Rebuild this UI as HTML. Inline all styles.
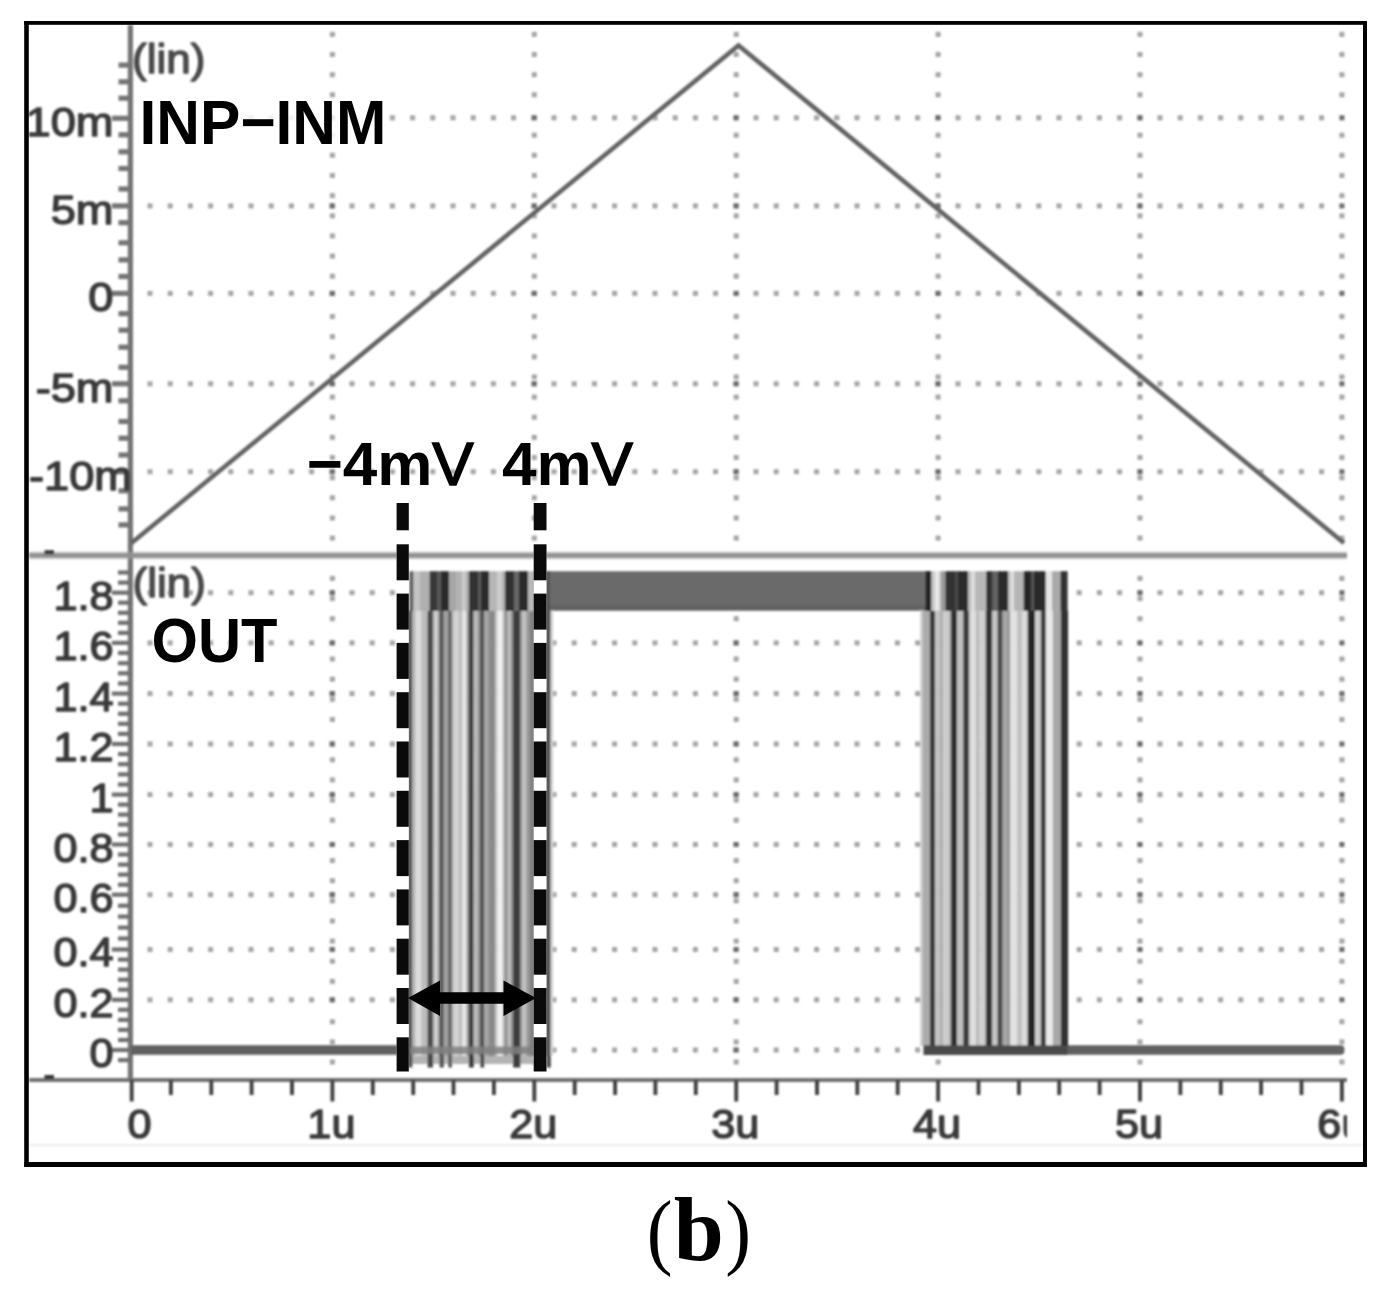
<!DOCTYPE html>
<html><head><meta charset="utf-8"><title>Figure (b)</title>
<style>
html,body{margin:0;padding:0;background:#fff;}
body{width:1393px;height:1295px;overflow:hidden;font-family:"Liberation Sans",sans-serif;}
svg{display:block;font-family:"Liberation Sans",sans-serif;}
</style></head><body>
<svg width="1393" height="1295" viewBox="0 0 1393 1295">
<defs>
<filter id="bl" x="-2%" y="-2%" width="104%" height="104%"><feGaussianBlur stdDeviation="1.1"/></filter>
<clipPath id="clip6"><rect x="1200" y="1100" width="147" height="50"/></clipPath>
<clipPath id="inner"><rect x="29" y="24" width="1334" height="1138"/></clipPath>
</defs>
<rect width="1393" height="1295" fill="#fff"/>
<g filter="url(#bl)"><g clip-path="url(#inner)">
<rect x="147.5" y="115.3" width="5.0" height="5.0" fill="#a4a4a4"/>
<rect x="167.7" y="115.3" width="5.0" height="5.0" fill="#a4a4a4"/>
<rect x="187.9" y="115.3" width="5.0" height="5.0" fill="#a4a4a4"/>
<rect x="208.1" y="115.3" width="5.0" height="5.0" fill="#a4a4a4"/>
<rect x="228.3" y="115.3" width="5.0" height="5.0" fill="#a4a4a4"/>
<rect x="248.5" y="115.3" width="5.0" height="5.0" fill="#a4a4a4"/>
<rect x="268.7" y="115.3" width="5.0" height="5.0" fill="#a4a4a4"/>
<rect x="288.9" y="115.3" width="5.0" height="5.0" fill="#a4a4a4"/>
<rect x="309.1" y="115.3" width="5.0" height="5.0" fill="#a4a4a4"/>
<rect x="329.3" y="115.3" width="5.0" height="5.0" fill="#a4a4a4"/>
<rect x="349.5" y="115.3" width="5.0" height="5.0" fill="#a4a4a4"/>
<rect x="369.7" y="115.3" width="5.0" height="5.0" fill="#a4a4a4"/>
<rect x="389.9" y="115.3" width="5.0" height="5.0" fill="#a4a4a4"/>
<rect x="410.1" y="115.3" width="5.0" height="5.0" fill="#a4a4a4"/>
<rect x="430.3" y="115.3" width="5.0" height="5.0" fill="#a4a4a4"/>
<rect x="450.5" y="115.3" width="5.0" height="5.0" fill="#a4a4a4"/>
<rect x="470.7" y="115.3" width="5.0" height="5.0" fill="#a4a4a4"/>
<rect x="490.9" y="115.3" width="5.0" height="5.0" fill="#a4a4a4"/>
<rect x="511.1" y="115.3" width="5.0" height="5.0" fill="#a4a4a4"/>
<rect x="531.3" y="115.3" width="5.0" height="5.0" fill="#a4a4a4"/>
<rect x="551.5" y="115.3" width="5.0" height="5.0" fill="#a4a4a4"/>
<rect x="571.7" y="115.3" width="5.0" height="5.0" fill="#a4a4a4"/>
<rect x="591.9" y="115.3" width="5.0" height="5.0" fill="#a4a4a4"/>
<rect x="612.1" y="115.3" width="5.0" height="5.0" fill="#a4a4a4"/>
<rect x="632.3" y="115.3" width="5.0" height="5.0" fill="#a4a4a4"/>
<rect x="652.5" y="115.3" width="5.0" height="5.0" fill="#a4a4a4"/>
<rect x="672.7" y="115.3" width="5.0" height="5.0" fill="#a4a4a4"/>
<rect x="692.9" y="115.3" width="5.0" height="5.0" fill="#a4a4a4"/>
<rect x="713.1" y="115.3" width="5.0" height="5.0" fill="#a4a4a4"/>
<rect x="733.3" y="115.3" width="5.0" height="5.0" fill="#a4a4a4"/>
<rect x="753.5" y="115.3" width="5.0" height="5.0" fill="#a4a4a4"/>
<rect x="773.7" y="115.3" width="5.0" height="5.0" fill="#a4a4a4"/>
<rect x="793.9" y="115.3" width="5.0" height="5.0" fill="#a4a4a4"/>
<rect x="814.1" y="115.3" width="5.0" height="5.0" fill="#a4a4a4"/>
<rect x="834.3" y="115.3" width="5.0" height="5.0" fill="#a4a4a4"/>
<rect x="854.5" y="115.3" width="5.0" height="5.0" fill="#a4a4a4"/>
<rect x="874.7" y="115.3" width="5.0" height="5.0" fill="#a4a4a4"/>
<rect x="894.9" y="115.3" width="5.0" height="5.0" fill="#a4a4a4"/>
<rect x="915.1" y="115.3" width="5.0" height="5.0" fill="#a4a4a4"/>
<rect x="935.3" y="115.3" width="5.0" height="5.0" fill="#a4a4a4"/>
<rect x="955.5" y="115.3" width="5.0" height="5.0" fill="#a4a4a4"/>
<rect x="975.7" y="115.3" width="5.0" height="5.0" fill="#a4a4a4"/>
<rect x="995.9" y="115.3" width="5.0" height="5.0" fill="#a4a4a4"/>
<rect x="1016.1" y="115.3" width="5.0" height="5.0" fill="#a4a4a4"/>
<rect x="1036.3" y="115.3" width="5.0" height="5.0" fill="#a4a4a4"/>
<rect x="1056.5" y="115.3" width="5.0" height="5.0" fill="#a4a4a4"/>
<rect x="1076.7" y="115.3" width="5.0" height="5.0" fill="#a4a4a4"/>
<rect x="1096.9" y="115.3" width="5.0" height="5.0" fill="#a4a4a4"/>
<rect x="1117.1" y="115.3" width="5.0" height="5.0" fill="#a4a4a4"/>
<rect x="1137.3" y="115.3" width="5.0" height="5.0" fill="#a4a4a4"/>
<rect x="1157.5" y="115.3" width="5.0" height="5.0" fill="#a4a4a4"/>
<rect x="1177.7" y="115.3" width="5.0" height="5.0" fill="#a4a4a4"/>
<rect x="1197.9" y="115.3" width="5.0" height="5.0" fill="#a4a4a4"/>
<rect x="1218.1" y="115.3" width="5.0" height="5.0" fill="#a4a4a4"/>
<rect x="1238.3" y="115.3" width="5.0" height="5.0" fill="#a4a4a4"/>
<rect x="1258.5" y="115.3" width="5.0" height="5.0" fill="#a4a4a4"/>
<rect x="1278.7" y="115.3" width="5.0" height="5.0" fill="#a4a4a4"/>
<rect x="1298.9" y="115.3" width="5.0" height="5.0" fill="#a4a4a4"/>
<rect x="1319.1" y="115.3" width="5.0" height="5.0" fill="#a4a4a4"/>
<rect x="147.5" y="203.4" width="5.0" height="5.0" fill="#a4a4a4"/>
<rect x="167.7" y="203.4" width="5.0" height="5.0" fill="#a4a4a4"/>
<rect x="187.9" y="203.4" width="5.0" height="5.0" fill="#a4a4a4"/>
<rect x="208.1" y="203.4" width="5.0" height="5.0" fill="#a4a4a4"/>
<rect x="228.3" y="203.4" width="5.0" height="5.0" fill="#a4a4a4"/>
<rect x="248.5" y="203.4" width="5.0" height="5.0" fill="#a4a4a4"/>
<rect x="268.7" y="203.4" width="5.0" height="5.0" fill="#a4a4a4"/>
<rect x="288.9" y="203.4" width="5.0" height="5.0" fill="#a4a4a4"/>
<rect x="309.1" y="203.4" width="5.0" height="5.0" fill="#a4a4a4"/>
<rect x="329.3" y="203.4" width="5.0" height="5.0" fill="#a4a4a4"/>
<rect x="349.5" y="203.4" width="5.0" height="5.0" fill="#a4a4a4"/>
<rect x="369.7" y="203.4" width="5.0" height="5.0" fill="#a4a4a4"/>
<rect x="389.9" y="203.4" width="5.0" height="5.0" fill="#a4a4a4"/>
<rect x="410.1" y="203.4" width="5.0" height="5.0" fill="#a4a4a4"/>
<rect x="430.3" y="203.4" width="5.0" height="5.0" fill="#a4a4a4"/>
<rect x="450.5" y="203.4" width="5.0" height="5.0" fill="#a4a4a4"/>
<rect x="470.7" y="203.4" width="5.0" height="5.0" fill="#a4a4a4"/>
<rect x="490.9" y="203.4" width="5.0" height="5.0" fill="#a4a4a4"/>
<rect x="511.1" y="203.4" width="5.0" height="5.0" fill="#a4a4a4"/>
<rect x="531.3" y="203.4" width="5.0" height="5.0" fill="#a4a4a4"/>
<rect x="551.5" y="203.4" width="5.0" height="5.0" fill="#a4a4a4"/>
<rect x="571.7" y="203.4" width="5.0" height="5.0" fill="#a4a4a4"/>
<rect x="591.9" y="203.4" width="5.0" height="5.0" fill="#a4a4a4"/>
<rect x="612.1" y="203.4" width="5.0" height="5.0" fill="#a4a4a4"/>
<rect x="632.3" y="203.4" width="5.0" height="5.0" fill="#a4a4a4"/>
<rect x="652.5" y="203.4" width="5.0" height="5.0" fill="#a4a4a4"/>
<rect x="672.7" y="203.4" width="5.0" height="5.0" fill="#a4a4a4"/>
<rect x="692.9" y="203.4" width="5.0" height="5.0" fill="#a4a4a4"/>
<rect x="713.1" y="203.4" width="5.0" height="5.0" fill="#a4a4a4"/>
<rect x="733.3" y="203.4" width="5.0" height="5.0" fill="#a4a4a4"/>
<rect x="753.5" y="203.4" width="5.0" height="5.0" fill="#a4a4a4"/>
<rect x="773.7" y="203.4" width="5.0" height="5.0" fill="#a4a4a4"/>
<rect x="793.9" y="203.4" width="5.0" height="5.0" fill="#a4a4a4"/>
<rect x="814.1" y="203.4" width="5.0" height="5.0" fill="#a4a4a4"/>
<rect x="834.3" y="203.4" width="5.0" height="5.0" fill="#a4a4a4"/>
<rect x="854.5" y="203.4" width="5.0" height="5.0" fill="#a4a4a4"/>
<rect x="874.7" y="203.4" width="5.0" height="5.0" fill="#a4a4a4"/>
<rect x="894.9" y="203.4" width="5.0" height="5.0" fill="#a4a4a4"/>
<rect x="915.1" y="203.4" width="5.0" height="5.0" fill="#a4a4a4"/>
<rect x="935.3" y="203.4" width="5.0" height="5.0" fill="#a4a4a4"/>
<rect x="955.5" y="203.4" width="5.0" height="5.0" fill="#a4a4a4"/>
<rect x="975.7" y="203.4" width="5.0" height="5.0" fill="#a4a4a4"/>
<rect x="995.9" y="203.4" width="5.0" height="5.0" fill="#a4a4a4"/>
<rect x="1016.1" y="203.4" width="5.0" height="5.0" fill="#a4a4a4"/>
<rect x="1036.3" y="203.4" width="5.0" height="5.0" fill="#a4a4a4"/>
<rect x="1056.5" y="203.4" width="5.0" height="5.0" fill="#a4a4a4"/>
<rect x="1076.7" y="203.4" width="5.0" height="5.0" fill="#a4a4a4"/>
<rect x="1096.9" y="203.4" width="5.0" height="5.0" fill="#a4a4a4"/>
<rect x="1117.1" y="203.4" width="5.0" height="5.0" fill="#a4a4a4"/>
<rect x="1137.3" y="203.4" width="5.0" height="5.0" fill="#a4a4a4"/>
<rect x="1157.5" y="203.4" width="5.0" height="5.0" fill="#a4a4a4"/>
<rect x="1177.7" y="203.4" width="5.0" height="5.0" fill="#a4a4a4"/>
<rect x="1197.9" y="203.4" width="5.0" height="5.0" fill="#a4a4a4"/>
<rect x="1218.1" y="203.4" width="5.0" height="5.0" fill="#a4a4a4"/>
<rect x="1238.3" y="203.4" width="5.0" height="5.0" fill="#a4a4a4"/>
<rect x="1258.5" y="203.4" width="5.0" height="5.0" fill="#a4a4a4"/>
<rect x="1278.7" y="203.4" width="5.0" height="5.0" fill="#a4a4a4"/>
<rect x="1298.9" y="203.4" width="5.0" height="5.0" fill="#a4a4a4"/>
<rect x="1319.1" y="203.4" width="5.0" height="5.0" fill="#a4a4a4"/>
<rect x="147.5" y="290.9" width="5.0" height="5.0" fill="#a4a4a4"/>
<rect x="167.7" y="290.9" width="5.0" height="5.0" fill="#a4a4a4"/>
<rect x="187.9" y="290.9" width="5.0" height="5.0" fill="#a4a4a4"/>
<rect x="208.1" y="290.9" width="5.0" height="5.0" fill="#a4a4a4"/>
<rect x="228.3" y="290.9" width="5.0" height="5.0" fill="#a4a4a4"/>
<rect x="248.5" y="290.9" width="5.0" height="5.0" fill="#a4a4a4"/>
<rect x="268.7" y="290.9" width="5.0" height="5.0" fill="#a4a4a4"/>
<rect x="288.9" y="290.9" width="5.0" height="5.0" fill="#a4a4a4"/>
<rect x="309.1" y="290.9" width="5.0" height="5.0" fill="#a4a4a4"/>
<rect x="329.3" y="290.9" width="5.0" height="5.0" fill="#a4a4a4"/>
<rect x="349.5" y="290.9" width="5.0" height="5.0" fill="#a4a4a4"/>
<rect x="369.7" y="290.9" width="5.0" height="5.0" fill="#a4a4a4"/>
<rect x="389.9" y="290.9" width="5.0" height="5.0" fill="#a4a4a4"/>
<rect x="410.1" y="290.9" width="5.0" height="5.0" fill="#a4a4a4"/>
<rect x="430.3" y="290.9" width="5.0" height="5.0" fill="#a4a4a4"/>
<rect x="450.5" y="290.9" width="5.0" height="5.0" fill="#a4a4a4"/>
<rect x="470.7" y="290.9" width="5.0" height="5.0" fill="#a4a4a4"/>
<rect x="490.9" y="290.9" width="5.0" height="5.0" fill="#a4a4a4"/>
<rect x="511.1" y="290.9" width="5.0" height="5.0" fill="#a4a4a4"/>
<rect x="531.3" y="290.9" width="5.0" height="5.0" fill="#a4a4a4"/>
<rect x="551.5" y="290.9" width="5.0" height="5.0" fill="#a4a4a4"/>
<rect x="571.7" y="290.9" width="5.0" height="5.0" fill="#a4a4a4"/>
<rect x="591.9" y="290.9" width="5.0" height="5.0" fill="#a4a4a4"/>
<rect x="612.1" y="290.9" width="5.0" height="5.0" fill="#a4a4a4"/>
<rect x="632.3" y="290.9" width="5.0" height="5.0" fill="#a4a4a4"/>
<rect x="652.5" y="290.9" width="5.0" height="5.0" fill="#a4a4a4"/>
<rect x="672.7" y="290.9" width="5.0" height="5.0" fill="#a4a4a4"/>
<rect x="692.9" y="290.9" width="5.0" height="5.0" fill="#a4a4a4"/>
<rect x="713.1" y="290.9" width="5.0" height="5.0" fill="#a4a4a4"/>
<rect x="733.3" y="290.9" width="5.0" height="5.0" fill="#a4a4a4"/>
<rect x="753.5" y="290.9" width="5.0" height="5.0" fill="#a4a4a4"/>
<rect x="773.7" y="290.9" width="5.0" height="5.0" fill="#a4a4a4"/>
<rect x="793.9" y="290.9" width="5.0" height="5.0" fill="#a4a4a4"/>
<rect x="814.1" y="290.9" width="5.0" height="5.0" fill="#a4a4a4"/>
<rect x="834.3" y="290.9" width="5.0" height="5.0" fill="#a4a4a4"/>
<rect x="854.5" y="290.9" width="5.0" height="5.0" fill="#a4a4a4"/>
<rect x="874.7" y="290.9" width="5.0" height="5.0" fill="#a4a4a4"/>
<rect x="894.9" y="290.9" width="5.0" height="5.0" fill="#a4a4a4"/>
<rect x="915.1" y="290.9" width="5.0" height="5.0" fill="#a4a4a4"/>
<rect x="935.3" y="290.9" width="5.0" height="5.0" fill="#a4a4a4"/>
<rect x="955.5" y="290.9" width="5.0" height="5.0" fill="#a4a4a4"/>
<rect x="975.7" y="290.9" width="5.0" height="5.0" fill="#a4a4a4"/>
<rect x="995.9" y="290.9" width="5.0" height="5.0" fill="#a4a4a4"/>
<rect x="1016.1" y="290.9" width="5.0" height="5.0" fill="#a4a4a4"/>
<rect x="1036.3" y="290.9" width="5.0" height="5.0" fill="#a4a4a4"/>
<rect x="1056.5" y="290.9" width="5.0" height="5.0" fill="#a4a4a4"/>
<rect x="1076.7" y="290.9" width="5.0" height="5.0" fill="#a4a4a4"/>
<rect x="1096.9" y="290.9" width="5.0" height="5.0" fill="#a4a4a4"/>
<rect x="1117.1" y="290.9" width="5.0" height="5.0" fill="#a4a4a4"/>
<rect x="1137.3" y="290.9" width="5.0" height="5.0" fill="#a4a4a4"/>
<rect x="1157.5" y="290.9" width="5.0" height="5.0" fill="#a4a4a4"/>
<rect x="1177.7" y="290.9" width="5.0" height="5.0" fill="#a4a4a4"/>
<rect x="1197.9" y="290.9" width="5.0" height="5.0" fill="#a4a4a4"/>
<rect x="1218.1" y="290.9" width="5.0" height="5.0" fill="#a4a4a4"/>
<rect x="1238.3" y="290.9" width="5.0" height="5.0" fill="#a4a4a4"/>
<rect x="1258.5" y="290.9" width="5.0" height="5.0" fill="#a4a4a4"/>
<rect x="1278.7" y="290.9" width="5.0" height="5.0" fill="#a4a4a4"/>
<rect x="1298.9" y="290.9" width="5.0" height="5.0" fill="#a4a4a4"/>
<rect x="1319.1" y="290.9" width="5.0" height="5.0" fill="#a4a4a4"/>
<rect x="147.5" y="381.3" width="5.0" height="5.0" fill="#a4a4a4"/>
<rect x="167.7" y="381.3" width="5.0" height="5.0" fill="#a4a4a4"/>
<rect x="187.9" y="381.3" width="5.0" height="5.0" fill="#a4a4a4"/>
<rect x="208.1" y="381.3" width="5.0" height="5.0" fill="#a4a4a4"/>
<rect x="228.3" y="381.3" width="5.0" height="5.0" fill="#a4a4a4"/>
<rect x="248.5" y="381.3" width="5.0" height="5.0" fill="#a4a4a4"/>
<rect x="268.7" y="381.3" width="5.0" height="5.0" fill="#a4a4a4"/>
<rect x="288.9" y="381.3" width="5.0" height="5.0" fill="#a4a4a4"/>
<rect x="309.1" y="381.3" width="5.0" height="5.0" fill="#a4a4a4"/>
<rect x="329.3" y="381.3" width="5.0" height="5.0" fill="#a4a4a4"/>
<rect x="349.5" y="381.3" width="5.0" height="5.0" fill="#a4a4a4"/>
<rect x="369.7" y="381.3" width="5.0" height="5.0" fill="#a4a4a4"/>
<rect x="389.9" y="381.3" width="5.0" height="5.0" fill="#a4a4a4"/>
<rect x="410.1" y="381.3" width="5.0" height="5.0" fill="#a4a4a4"/>
<rect x="430.3" y="381.3" width="5.0" height="5.0" fill="#a4a4a4"/>
<rect x="450.5" y="381.3" width="5.0" height="5.0" fill="#a4a4a4"/>
<rect x="470.7" y="381.3" width="5.0" height="5.0" fill="#a4a4a4"/>
<rect x="490.9" y="381.3" width="5.0" height="5.0" fill="#a4a4a4"/>
<rect x="511.1" y="381.3" width="5.0" height="5.0" fill="#a4a4a4"/>
<rect x="531.3" y="381.3" width="5.0" height="5.0" fill="#a4a4a4"/>
<rect x="551.5" y="381.3" width="5.0" height="5.0" fill="#a4a4a4"/>
<rect x="571.7" y="381.3" width="5.0" height="5.0" fill="#a4a4a4"/>
<rect x="591.9" y="381.3" width="5.0" height="5.0" fill="#a4a4a4"/>
<rect x="612.1" y="381.3" width="5.0" height="5.0" fill="#a4a4a4"/>
<rect x="632.3" y="381.3" width="5.0" height="5.0" fill="#a4a4a4"/>
<rect x="652.5" y="381.3" width="5.0" height="5.0" fill="#a4a4a4"/>
<rect x="672.7" y="381.3" width="5.0" height="5.0" fill="#a4a4a4"/>
<rect x="692.9" y="381.3" width="5.0" height="5.0" fill="#a4a4a4"/>
<rect x="713.1" y="381.3" width="5.0" height="5.0" fill="#a4a4a4"/>
<rect x="733.3" y="381.3" width="5.0" height="5.0" fill="#a4a4a4"/>
<rect x="753.5" y="381.3" width="5.0" height="5.0" fill="#a4a4a4"/>
<rect x="773.7" y="381.3" width="5.0" height="5.0" fill="#a4a4a4"/>
<rect x="793.9" y="381.3" width="5.0" height="5.0" fill="#a4a4a4"/>
<rect x="814.1" y="381.3" width="5.0" height="5.0" fill="#a4a4a4"/>
<rect x="834.3" y="381.3" width="5.0" height="5.0" fill="#a4a4a4"/>
<rect x="854.5" y="381.3" width="5.0" height="5.0" fill="#a4a4a4"/>
<rect x="874.7" y="381.3" width="5.0" height="5.0" fill="#a4a4a4"/>
<rect x="894.9" y="381.3" width="5.0" height="5.0" fill="#a4a4a4"/>
<rect x="915.1" y="381.3" width="5.0" height="5.0" fill="#a4a4a4"/>
<rect x="935.3" y="381.3" width="5.0" height="5.0" fill="#a4a4a4"/>
<rect x="955.5" y="381.3" width="5.0" height="5.0" fill="#a4a4a4"/>
<rect x="975.7" y="381.3" width="5.0" height="5.0" fill="#a4a4a4"/>
<rect x="995.9" y="381.3" width="5.0" height="5.0" fill="#a4a4a4"/>
<rect x="1016.1" y="381.3" width="5.0" height="5.0" fill="#a4a4a4"/>
<rect x="1036.3" y="381.3" width="5.0" height="5.0" fill="#a4a4a4"/>
<rect x="1056.5" y="381.3" width="5.0" height="5.0" fill="#a4a4a4"/>
<rect x="1076.7" y="381.3" width="5.0" height="5.0" fill="#a4a4a4"/>
<rect x="1096.9" y="381.3" width="5.0" height="5.0" fill="#a4a4a4"/>
<rect x="1117.1" y="381.3" width="5.0" height="5.0" fill="#a4a4a4"/>
<rect x="1137.3" y="381.3" width="5.0" height="5.0" fill="#a4a4a4"/>
<rect x="1157.5" y="381.3" width="5.0" height="5.0" fill="#a4a4a4"/>
<rect x="1177.7" y="381.3" width="5.0" height="5.0" fill="#a4a4a4"/>
<rect x="1197.9" y="381.3" width="5.0" height="5.0" fill="#a4a4a4"/>
<rect x="1218.1" y="381.3" width="5.0" height="5.0" fill="#a4a4a4"/>
<rect x="1238.3" y="381.3" width="5.0" height="5.0" fill="#a4a4a4"/>
<rect x="1258.5" y="381.3" width="5.0" height="5.0" fill="#a4a4a4"/>
<rect x="1278.7" y="381.3" width="5.0" height="5.0" fill="#a4a4a4"/>
<rect x="1298.9" y="381.3" width="5.0" height="5.0" fill="#a4a4a4"/>
<rect x="1319.1" y="381.3" width="5.0" height="5.0" fill="#a4a4a4"/>
<rect x="147.5" y="469.2" width="5.0" height="5.0" fill="#a4a4a4"/>
<rect x="167.7" y="469.2" width="5.0" height="5.0" fill="#a4a4a4"/>
<rect x="187.9" y="469.2" width="5.0" height="5.0" fill="#a4a4a4"/>
<rect x="208.1" y="469.2" width="5.0" height="5.0" fill="#a4a4a4"/>
<rect x="228.3" y="469.2" width="5.0" height="5.0" fill="#a4a4a4"/>
<rect x="248.5" y="469.2" width="5.0" height="5.0" fill="#a4a4a4"/>
<rect x="268.7" y="469.2" width="5.0" height="5.0" fill="#a4a4a4"/>
<rect x="288.9" y="469.2" width="5.0" height="5.0" fill="#a4a4a4"/>
<rect x="309.1" y="469.2" width="5.0" height="5.0" fill="#a4a4a4"/>
<rect x="329.3" y="469.2" width="5.0" height="5.0" fill="#a4a4a4"/>
<rect x="349.5" y="469.2" width="5.0" height="5.0" fill="#a4a4a4"/>
<rect x="369.7" y="469.2" width="5.0" height="5.0" fill="#a4a4a4"/>
<rect x="389.9" y="469.2" width="5.0" height="5.0" fill="#a4a4a4"/>
<rect x="410.1" y="469.2" width="5.0" height="5.0" fill="#a4a4a4"/>
<rect x="430.3" y="469.2" width="5.0" height="5.0" fill="#a4a4a4"/>
<rect x="450.5" y="469.2" width="5.0" height="5.0" fill="#a4a4a4"/>
<rect x="470.7" y="469.2" width="5.0" height="5.0" fill="#a4a4a4"/>
<rect x="490.9" y="469.2" width="5.0" height="5.0" fill="#a4a4a4"/>
<rect x="511.1" y="469.2" width="5.0" height="5.0" fill="#a4a4a4"/>
<rect x="531.3" y="469.2" width="5.0" height="5.0" fill="#a4a4a4"/>
<rect x="551.5" y="469.2" width="5.0" height="5.0" fill="#a4a4a4"/>
<rect x="571.7" y="469.2" width="5.0" height="5.0" fill="#a4a4a4"/>
<rect x="591.9" y="469.2" width="5.0" height="5.0" fill="#a4a4a4"/>
<rect x="612.1" y="469.2" width="5.0" height="5.0" fill="#a4a4a4"/>
<rect x="632.3" y="469.2" width="5.0" height="5.0" fill="#a4a4a4"/>
<rect x="652.5" y="469.2" width="5.0" height="5.0" fill="#a4a4a4"/>
<rect x="672.7" y="469.2" width="5.0" height="5.0" fill="#a4a4a4"/>
<rect x="692.9" y="469.2" width="5.0" height="5.0" fill="#a4a4a4"/>
<rect x="713.1" y="469.2" width="5.0" height="5.0" fill="#a4a4a4"/>
<rect x="733.3" y="469.2" width="5.0" height="5.0" fill="#a4a4a4"/>
<rect x="753.5" y="469.2" width="5.0" height="5.0" fill="#a4a4a4"/>
<rect x="773.7" y="469.2" width="5.0" height="5.0" fill="#a4a4a4"/>
<rect x="793.9" y="469.2" width="5.0" height="5.0" fill="#a4a4a4"/>
<rect x="814.1" y="469.2" width="5.0" height="5.0" fill="#a4a4a4"/>
<rect x="834.3" y="469.2" width="5.0" height="5.0" fill="#a4a4a4"/>
<rect x="854.5" y="469.2" width="5.0" height="5.0" fill="#a4a4a4"/>
<rect x="874.7" y="469.2" width="5.0" height="5.0" fill="#a4a4a4"/>
<rect x="894.9" y="469.2" width="5.0" height="5.0" fill="#a4a4a4"/>
<rect x="915.1" y="469.2" width="5.0" height="5.0" fill="#a4a4a4"/>
<rect x="935.3" y="469.2" width="5.0" height="5.0" fill="#a4a4a4"/>
<rect x="955.5" y="469.2" width="5.0" height="5.0" fill="#a4a4a4"/>
<rect x="975.7" y="469.2" width="5.0" height="5.0" fill="#a4a4a4"/>
<rect x="995.9" y="469.2" width="5.0" height="5.0" fill="#a4a4a4"/>
<rect x="1016.1" y="469.2" width="5.0" height="5.0" fill="#a4a4a4"/>
<rect x="1036.3" y="469.2" width="5.0" height="5.0" fill="#a4a4a4"/>
<rect x="1056.5" y="469.2" width="5.0" height="5.0" fill="#a4a4a4"/>
<rect x="1076.7" y="469.2" width="5.0" height="5.0" fill="#a4a4a4"/>
<rect x="1096.9" y="469.2" width="5.0" height="5.0" fill="#a4a4a4"/>
<rect x="1117.1" y="469.2" width="5.0" height="5.0" fill="#a4a4a4"/>
<rect x="1137.3" y="469.2" width="5.0" height="5.0" fill="#a4a4a4"/>
<rect x="1157.5" y="469.2" width="5.0" height="5.0" fill="#a4a4a4"/>
<rect x="1177.7" y="469.2" width="5.0" height="5.0" fill="#a4a4a4"/>
<rect x="1197.9" y="469.2" width="5.0" height="5.0" fill="#a4a4a4"/>
<rect x="1218.1" y="469.2" width="5.0" height="5.0" fill="#a4a4a4"/>
<rect x="1238.3" y="469.2" width="5.0" height="5.0" fill="#a4a4a4"/>
<rect x="1258.5" y="469.2" width="5.0" height="5.0" fill="#a4a4a4"/>
<rect x="1278.7" y="469.2" width="5.0" height="5.0" fill="#a4a4a4"/>
<rect x="1298.9" y="469.2" width="5.0" height="5.0" fill="#a4a4a4"/>
<rect x="1319.1" y="469.2" width="5.0" height="5.0" fill="#a4a4a4"/>
<rect x="147.5" y="590.2" width="5.0" height="5.0" fill="#a4a4a4"/>
<rect x="167.7" y="590.2" width="5.0" height="5.0" fill="#a4a4a4"/>
<rect x="187.9" y="590.2" width="5.0" height="5.0" fill="#a4a4a4"/>
<rect x="208.1" y="590.2" width="5.0" height="5.0" fill="#a4a4a4"/>
<rect x="228.3" y="590.2" width="5.0" height="5.0" fill="#a4a4a4"/>
<rect x="248.5" y="590.2" width="5.0" height="5.0" fill="#a4a4a4"/>
<rect x="268.7" y="590.2" width="5.0" height="5.0" fill="#a4a4a4"/>
<rect x="288.9" y="590.2" width="5.0" height="5.0" fill="#a4a4a4"/>
<rect x="309.1" y="590.2" width="5.0" height="5.0" fill="#a4a4a4"/>
<rect x="329.3" y="590.2" width="5.0" height="5.0" fill="#a4a4a4"/>
<rect x="349.5" y="590.2" width="5.0" height="5.0" fill="#a4a4a4"/>
<rect x="369.7" y="590.2" width="5.0" height="5.0" fill="#a4a4a4"/>
<rect x="389.9" y="590.2" width="5.0" height="5.0" fill="#a4a4a4"/>
<rect x="410.1" y="590.2" width="5.0" height="5.0" fill="#a4a4a4"/>
<rect x="430.3" y="590.2" width="5.0" height="5.0" fill="#a4a4a4"/>
<rect x="450.5" y="590.2" width="5.0" height="5.0" fill="#a4a4a4"/>
<rect x="470.7" y="590.2" width="5.0" height="5.0" fill="#a4a4a4"/>
<rect x="490.9" y="590.2" width="5.0" height="5.0" fill="#a4a4a4"/>
<rect x="511.1" y="590.2" width="5.0" height="5.0" fill="#a4a4a4"/>
<rect x="531.3" y="590.2" width="5.0" height="5.0" fill="#a4a4a4"/>
<rect x="551.5" y="590.2" width="5.0" height="5.0" fill="#a4a4a4"/>
<rect x="571.7" y="590.2" width="5.0" height="5.0" fill="#a4a4a4"/>
<rect x="591.9" y="590.2" width="5.0" height="5.0" fill="#a4a4a4"/>
<rect x="612.1" y="590.2" width="5.0" height="5.0" fill="#a4a4a4"/>
<rect x="632.3" y="590.2" width="5.0" height="5.0" fill="#a4a4a4"/>
<rect x="652.5" y="590.2" width="5.0" height="5.0" fill="#a4a4a4"/>
<rect x="672.7" y="590.2" width="5.0" height="5.0" fill="#a4a4a4"/>
<rect x="692.9" y="590.2" width="5.0" height="5.0" fill="#a4a4a4"/>
<rect x="713.1" y="590.2" width="5.0" height="5.0" fill="#a4a4a4"/>
<rect x="733.3" y="590.2" width="5.0" height="5.0" fill="#a4a4a4"/>
<rect x="753.5" y="590.2" width="5.0" height="5.0" fill="#a4a4a4"/>
<rect x="773.7" y="590.2" width="5.0" height="5.0" fill="#a4a4a4"/>
<rect x="793.9" y="590.2" width="5.0" height="5.0" fill="#a4a4a4"/>
<rect x="814.1" y="590.2" width="5.0" height="5.0" fill="#a4a4a4"/>
<rect x="834.3" y="590.2" width="5.0" height="5.0" fill="#a4a4a4"/>
<rect x="854.5" y="590.2" width="5.0" height="5.0" fill="#a4a4a4"/>
<rect x="874.7" y="590.2" width="5.0" height="5.0" fill="#a4a4a4"/>
<rect x="894.9" y="590.2" width="5.0" height="5.0" fill="#a4a4a4"/>
<rect x="915.1" y="590.2" width="5.0" height="5.0" fill="#a4a4a4"/>
<rect x="935.3" y="590.2" width="5.0" height="5.0" fill="#a4a4a4"/>
<rect x="955.5" y="590.2" width="5.0" height="5.0" fill="#a4a4a4"/>
<rect x="975.7" y="590.2" width="5.0" height="5.0" fill="#a4a4a4"/>
<rect x="995.9" y="590.2" width="5.0" height="5.0" fill="#a4a4a4"/>
<rect x="1016.1" y="590.2" width="5.0" height="5.0" fill="#a4a4a4"/>
<rect x="1036.3" y="590.2" width="5.0" height="5.0" fill="#a4a4a4"/>
<rect x="1056.5" y="590.2" width="5.0" height="5.0" fill="#a4a4a4"/>
<rect x="1076.7" y="590.2" width="5.0" height="5.0" fill="#a4a4a4"/>
<rect x="1096.9" y="590.2" width="5.0" height="5.0" fill="#a4a4a4"/>
<rect x="1117.1" y="590.2" width="5.0" height="5.0" fill="#a4a4a4"/>
<rect x="1137.3" y="590.2" width="5.0" height="5.0" fill="#a4a4a4"/>
<rect x="1157.5" y="590.2" width="5.0" height="5.0" fill="#a4a4a4"/>
<rect x="1177.7" y="590.2" width="5.0" height="5.0" fill="#a4a4a4"/>
<rect x="1197.9" y="590.2" width="5.0" height="5.0" fill="#a4a4a4"/>
<rect x="1218.1" y="590.2" width="5.0" height="5.0" fill="#a4a4a4"/>
<rect x="1238.3" y="590.2" width="5.0" height="5.0" fill="#a4a4a4"/>
<rect x="1258.5" y="590.2" width="5.0" height="5.0" fill="#a4a4a4"/>
<rect x="1278.7" y="590.2" width="5.0" height="5.0" fill="#a4a4a4"/>
<rect x="1298.9" y="590.2" width="5.0" height="5.0" fill="#a4a4a4"/>
<rect x="1319.1" y="590.2" width="5.0" height="5.0" fill="#a4a4a4"/>
<rect x="147.5" y="640.4" width="5.0" height="5.0" fill="#a4a4a4"/>
<rect x="167.7" y="640.4" width="5.0" height="5.0" fill="#a4a4a4"/>
<rect x="187.9" y="640.4" width="5.0" height="5.0" fill="#a4a4a4"/>
<rect x="208.1" y="640.4" width="5.0" height="5.0" fill="#a4a4a4"/>
<rect x="228.3" y="640.4" width="5.0" height="5.0" fill="#a4a4a4"/>
<rect x="248.5" y="640.4" width="5.0" height="5.0" fill="#a4a4a4"/>
<rect x="268.7" y="640.4" width="5.0" height="5.0" fill="#a4a4a4"/>
<rect x="288.9" y="640.4" width="5.0" height="5.0" fill="#a4a4a4"/>
<rect x="309.1" y="640.4" width="5.0" height="5.0" fill="#a4a4a4"/>
<rect x="329.3" y="640.4" width="5.0" height="5.0" fill="#a4a4a4"/>
<rect x="349.5" y="640.4" width="5.0" height="5.0" fill="#a4a4a4"/>
<rect x="369.7" y="640.4" width="5.0" height="5.0" fill="#a4a4a4"/>
<rect x="389.9" y="640.4" width="5.0" height="5.0" fill="#a4a4a4"/>
<rect x="410.1" y="640.4" width="5.0" height="5.0" fill="#a4a4a4"/>
<rect x="430.3" y="640.4" width="5.0" height="5.0" fill="#a4a4a4"/>
<rect x="450.5" y="640.4" width="5.0" height="5.0" fill="#a4a4a4"/>
<rect x="470.7" y="640.4" width="5.0" height="5.0" fill="#a4a4a4"/>
<rect x="490.9" y="640.4" width="5.0" height="5.0" fill="#a4a4a4"/>
<rect x="511.1" y="640.4" width="5.0" height="5.0" fill="#a4a4a4"/>
<rect x="531.3" y="640.4" width="5.0" height="5.0" fill="#a4a4a4"/>
<rect x="551.5" y="640.4" width="5.0" height="5.0" fill="#a4a4a4"/>
<rect x="571.7" y="640.4" width="5.0" height="5.0" fill="#a4a4a4"/>
<rect x="591.9" y="640.4" width="5.0" height="5.0" fill="#a4a4a4"/>
<rect x="612.1" y="640.4" width="5.0" height="5.0" fill="#a4a4a4"/>
<rect x="632.3" y="640.4" width="5.0" height="5.0" fill="#a4a4a4"/>
<rect x="652.5" y="640.4" width="5.0" height="5.0" fill="#a4a4a4"/>
<rect x="672.7" y="640.4" width="5.0" height="5.0" fill="#a4a4a4"/>
<rect x="692.9" y="640.4" width="5.0" height="5.0" fill="#a4a4a4"/>
<rect x="713.1" y="640.4" width="5.0" height="5.0" fill="#a4a4a4"/>
<rect x="733.3" y="640.4" width="5.0" height="5.0" fill="#a4a4a4"/>
<rect x="753.5" y="640.4" width="5.0" height="5.0" fill="#a4a4a4"/>
<rect x="773.7" y="640.4" width="5.0" height="5.0" fill="#a4a4a4"/>
<rect x="793.9" y="640.4" width="5.0" height="5.0" fill="#a4a4a4"/>
<rect x="814.1" y="640.4" width="5.0" height="5.0" fill="#a4a4a4"/>
<rect x="834.3" y="640.4" width="5.0" height="5.0" fill="#a4a4a4"/>
<rect x="854.5" y="640.4" width="5.0" height="5.0" fill="#a4a4a4"/>
<rect x="874.7" y="640.4" width="5.0" height="5.0" fill="#a4a4a4"/>
<rect x="894.9" y="640.4" width="5.0" height="5.0" fill="#a4a4a4"/>
<rect x="915.1" y="640.4" width="5.0" height="5.0" fill="#a4a4a4"/>
<rect x="935.3" y="640.4" width="5.0" height="5.0" fill="#a4a4a4"/>
<rect x="955.5" y="640.4" width="5.0" height="5.0" fill="#a4a4a4"/>
<rect x="975.7" y="640.4" width="5.0" height="5.0" fill="#a4a4a4"/>
<rect x="995.9" y="640.4" width="5.0" height="5.0" fill="#a4a4a4"/>
<rect x="1016.1" y="640.4" width="5.0" height="5.0" fill="#a4a4a4"/>
<rect x="1036.3" y="640.4" width="5.0" height="5.0" fill="#a4a4a4"/>
<rect x="1056.5" y="640.4" width="5.0" height="5.0" fill="#a4a4a4"/>
<rect x="1076.7" y="640.4" width="5.0" height="5.0" fill="#a4a4a4"/>
<rect x="1096.9" y="640.4" width="5.0" height="5.0" fill="#a4a4a4"/>
<rect x="1117.1" y="640.4" width="5.0" height="5.0" fill="#a4a4a4"/>
<rect x="1137.3" y="640.4" width="5.0" height="5.0" fill="#a4a4a4"/>
<rect x="1157.5" y="640.4" width="5.0" height="5.0" fill="#a4a4a4"/>
<rect x="1177.7" y="640.4" width="5.0" height="5.0" fill="#a4a4a4"/>
<rect x="1197.9" y="640.4" width="5.0" height="5.0" fill="#a4a4a4"/>
<rect x="1218.1" y="640.4" width="5.0" height="5.0" fill="#a4a4a4"/>
<rect x="1238.3" y="640.4" width="5.0" height="5.0" fill="#a4a4a4"/>
<rect x="1258.5" y="640.4" width="5.0" height="5.0" fill="#a4a4a4"/>
<rect x="1278.7" y="640.4" width="5.0" height="5.0" fill="#a4a4a4"/>
<rect x="1298.9" y="640.4" width="5.0" height="5.0" fill="#a4a4a4"/>
<rect x="1319.1" y="640.4" width="5.0" height="5.0" fill="#a4a4a4"/>
<rect x="147.5" y="691.1" width="5.0" height="5.0" fill="#a4a4a4"/>
<rect x="167.7" y="691.1" width="5.0" height="5.0" fill="#a4a4a4"/>
<rect x="187.9" y="691.1" width="5.0" height="5.0" fill="#a4a4a4"/>
<rect x="208.1" y="691.1" width="5.0" height="5.0" fill="#a4a4a4"/>
<rect x="228.3" y="691.1" width="5.0" height="5.0" fill="#a4a4a4"/>
<rect x="248.5" y="691.1" width="5.0" height="5.0" fill="#a4a4a4"/>
<rect x="268.7" y="691.1" width="5.0" height="5.0" fill="#a4a4a4"/>
<rect x="288.9" y="691.1" width="5.0" height="5.0" fill="#a4a4a4"/>
<rect x="309.1" y="691.1" width="5.0" height="5.0" fill="#a4a4a4"/>
<rect x="329.3" y="691.1" width="5.0" height="5.0" fill="#a4a4a4"/>
<rect x="349.5" y="691.1" width="5.0" height="5.0" fill="#a4a4a4"/>
<rect x="369.7" y="691.1" width="5.0" height="5.0" fill="#a4a4a4"/>
<rect x="389.9" y="691.1" width="5.0" height="5.0" fill="#a4a4a4"/>
<rect x="410.1" y="691.1" width="5.0" height="5.0" fill="#a4a4a4"/>
<rect x="430.3" y="691.1" width="5.0" height="5.0" fill="#a4a4a4"/>
<rect x="450.5" y="691.1" width="5.0" height="5.0" fill="#a4a4a4"/>
<rect x="470.7" y="691.1" width="5.0" height="5.0" fill="#a4a4a4"/>
<rect x="490.9" y="691.1" width="5.0" height="5.0" fill="#a4a4a4"/>
<rect x="511.1" y="691.1" width="5.0" height="5.0" fill="#a4a4a4"/>
<rect x="531.3" y="691.1" width="5.0" height="5.0" fill="#a4a4a4"/>
<rect x="551.5" y="691.1" width="5.0" height="5.0" fill="#a4a4a4"/>
<rect x="571.7" y="691.1" width="5.0" height="5.0" fill="#a4a4a4"/>
<rect x="591.9" y="691.1" width="5.0" height="5.0" fill="#a4a4a4"/>
<rect x="612.1" y="691.1" width="5.0" height="5.0" fill="#a4a4a4"/>
<rect x="632.3" y="691.1" width="5.0" height="5.0" fill="#a4a4a4"/>
<rect x="652.5" y="691.1" width="5.0" height="5.0" fill="#a4a4a4"/>
<rect x="672.7" y="691.1" width="5.0" height="5.0" fill="#a4a4a4"/>
<rect x="692.9" y="691.1" width="5.0" height="5.0" fill="#a4a4a4"/>
<rect x="713.1" y="691.1" width="5.0" height="5.0" fill="#a4a4a4"/>
<rect x="733.3" y="691.1" width="5.0" height="5.0" fill="#a4a4a4"/>
<rect x="753.5" y="691.1" width="5.0" height="5.0" fill="#a4a4a4"/>
<rect x="773.7" y="691.1" width="5.0" height="5.0" fill="#a4a4a4"/>
<rect x="793.9" y="691.1" width="5.0" height="5.0" fill="#a4a4a4"/>
<rect x="814.1" y="691.1" width="5.0" height="5.0" fill="#a4a4a4"/>
<rect x="834.3" y="691.1" width="5.0" height="5.0" fill="#a4a4a4"/>
<rect x="854.5" y="691.1" width="5.0" height="5.0" fill="#a4a4a4"/>
<rect x="874.7" y="691.1" width="5.0" height="5.0" fill="#a4a4a4"/>
<rect x="894.9" y="691.1" width="5.0" height="5.0" fill="#a4a4a4"/>
<rect x="915.1" y="691.1" width="5.0" height="5.0" fill="#a4a4a4"/>
<rect x="935.3" y="691.1" width="5.0" height="5.0" fill="#a4a4a4"/>
<rect x="955.5" y="691.1" width="5.0" height="5.0" fill="#a4a4a4"/>
<rect x="975.7" y="691.1" width="5.0" height="5.0" fill="#a4a4a4"/>
<rect x="995.9" y="691.1" width="5.0" height="5.0" fill="#a4a4a4"/>
<rect x="1016.1" y="691.1" width="5.0" height="5.0" fill="#a4a4a4"/>
<rect x="1036.3" y="691.1" width="5.0" height="5.0" fill="#a4a4a4"/>
<rect x="1056.5" y="691.1" width="5.0" height="5.0" fill="#a4a4a4"/>
<rect x="1076.7" y="691.1" width="5.0" height="5.0" fill="#a4a4a4"/>
<rect x="1096.9" y="691.1" width="5.0" height="5.0" fill="#a4a4a4"/>
<rect x="1117.1" y="691.1" width="5.0" height="5.0" fill="#a4a4a4"/>
<rect x="1137.3" y="691.1" width="5.0" height="5.0" fill="#a4a4a4"/>
<rect x="1157.5" y="691.1" width="5.0" height="5.0" fill="#a4a4a4"/>
<rect x="1177.7" y="691.1" width="5.0" height="5.0" fill="#a4a4a4"/>
<rect x="1197.9" y="691.1" width="5.0" height="5.0" fill="#a4a4a4"/>
<rect x="1218.1" y="691.1" width="5.0" height="5.0" fill="#a4a4a4"/>
<rect x="1238.3" y="691.1" width="5.0" height="5.0" fill="#a4a4a4"/>
<rect x="1258.5" y="691.1" width="5.0" height="5.0" fill="#a4a4a4"/>
<rect x="1278.7" y="691.1" width="5.0" height="5.0" fill="#a4a4a4"/>
<rect x="1298.9" y="691.1" width="5.0" height="5.0" fill="#a4a4a4"/>
<rect x="1319.1" y="691.1" width="5.0" height="5.0" fill="#a4a4a4"/>
<rect x="147.5" y="741.5" width="5.0" height="5.0" fill="#a4a4a4"/>
<rect x="167.7" y="741.5" width="5.0" height="5.0" fill="#a4a4a4"/>
<rect x="187.9" y="741.5" width="5.0" height="5.0" fill="#a4a4a4"/>
<rect x="208.1" y="741.5" width="5.0" height="5.0" fill="#a4a4a4"/>
<rect x="228.3" y="741.5" width="5.0" height="5.0" fill="#a4a4a4"/>
<rect x="248.5" y="741.5" width="5.0" height="5.0" fill="#a4a4a4"/>
<rect x="268.7" y="741.5" width="5.0" height="5.0" fill="#a4a4a4"/>
<rect x="288.9" y="741.5" width="5.0" height="5.0" fill="#a4a4a4"/>
<rect x="309.1" y="741.5" width="5.0" height="5.0" fill="#a4a4a4"/>
<rect x="329.3" y="741.5" width="5.0" height="5.0" fill="#a4a4a4"/>
<rect x="349.5" y="741.5" width="5.0" height="5.0" fill="#a4a4a4"/>
<rect x="369.7" y="741.5" width="5.0" height="5.0" fill="#a4a4a4"/>
<rect x="389.9" y="741.5" width="5.0" height="5.0" fill="#a4a4a4"/>
<rect x="410.1" y="741.5" width="5.0" height="5.0" fill="#a4a4a4"/>
<rect x="430.3" y="741.5" width="5.0" height="5.0" fill="#a4a4a4"/>
<rect x="450.5" y="741.5" width="5.0" height="5.0" fill="#a4a4a4"/>
<rect x="470.7" y="741.5" width="5.0" height="5.0" fill="#a4a4a4"/>
<rect x="490.9" y="741.5" width="5.0" height="5.0" fill="#a4a4a4"/>
<rect x="511.1" y="741.5" width="5.0" height="5.0" fill="#a4a4a4"/>
<rect x="531.3" y="741.5" width="5.0" height="5.0" fill="#a4a4a4"/>
<rect x="551.5" y="741.5" width="5.0" height="5.0" fill="#a4a4a4"/>
<rect x="571.7" y="741.5" width="5.0" height="5.0" fill="#a4a4a4"/>
<rect x="591.9" y="741.5" width="5.0" height="5.0" fill="#a4a4a4"/>
<rect x="612.1" y="741.5" width="5.0" height="5.0" fill="#a4a4a4"/>
<rect x="632.3" y="741.5" width="5.0" height="5.0" fill="#a4a4a4"/>
<rect x="652.5" y="741.5" width="5.0" height="5.0" fill="#a4a4a4"/>
<rect x="672.7" y="741.5" width="5.0" height="5.0" fill="#a4a4a4"/>
<rect x="692.9" y="741.5" width="5.0" height="5.0" fill="#a4a4a4"/>
<rect x="713.1" y="741.5" width="5.0" height="5.0" fill="#a4a4a4"/>
<rect x="733.3" y="741.5" width="5.0" height="5.0" fill="#a4a4a4"/>
<rect x="753.5" y="741.5" width="5.0" height="5.0" fill="#a4a4a4"/>
<rect x="773.7" y="741.5" width="5.0" height="5.0" fill="#a4a4a4"/>
<rect x="793.9" y="741.5" width="5.0" height="5.0" fill="#a4a4a4"/>
<rect x="814.1" y="741.5" width="5.0" height="5.0" fill="#a4a4a4"/>
<rect x="834.3" y="741.5" width="5.0" height="5.0" fill="#a4a4a4"/>
<rect x="854.5" y="741.5" width="5.0" height="5.0" fill="#a4a4a4"/>
<rect x="874.7" y="741.5" width="5.0" height="5.0" fill="#a4a4a4"/>
<rect x="894.9" y="741.5" width="5.0" height="5.0" fill="#a4a4a4"/>
<rect x="915.1" y="741.5" width="5.0" height="5.0" fill="#a4a4a4"/>
<rect x="935.3" y="741.5" width="5.0" height="5.0" fill="#a4a4a4"/>
<rect x="955.5" y="741.5" width="5.0" height="5.0" fill="#a4a4a4"/>
<rect x="975.7" y="741.5" width="5.0" height="5.0" fill="#a4a4a4"/>
<rect x="995.9" y="741.5" width="5.0" height="5.0" fill="#a4a4a4"/>
<rect x="1016.1" y="741.5" width="5.0" height="5.0" fill="#a4a4a4"/>
<rect x="1036.3" y="741.5" width="5.0" height="5.0" fill="#a4a4a4"/>
<rect x="1056.5" y="741.5" width="5.0" height="5.0" fill="#a4a4a4"/>
<rect x="1076.7" y="741.5" width="5.0" height="5.0" fill="#a4a4a4"/>
<rect x="1096.9" y="741.5" width="5.0" height="5.0" fill="#a4a4a4"/>
<rect x="1117.1" y="741.5" width="5.0" height="5.0" fill="#a4a4a4"/>
<rect x="1137.3" y="741.5" width="5.0" height="5.0" fill="#a4a4a4"/>
<rect x="1157.5" y="741.5" width="5.0" height="5.0" fill="#a4a4a4"/>
<rect x="1177.7" y="741.5" width="5.0" height="5.0" fill="#a4a4a4"/>
<rect x="1197.9" y="741.5" width="5.0" height="5.0" fill="#a4a4a4"/>
<rect x="1218.1" y="741.5" width="5.0" height="5.0" fill="#a4a4a4"/>
<rect x="1238.3" y="741.5" width="5.0" height="5.0" fill="#a4a4a4"/>
<rect x="1258.5" y="741.5" width="5.0" height="5.0" fill="#a4a4a4"/>
<rect x="1278.7" y="741.5" width="5.0" height="5.0" fill="#a4a4a4"/>
<rect x="1298.9" y="741.5" width="5.0" height="5.0" fill="#a4a4a4"/>
<rect x="1319.1" y="741.5" width="5.0" height="5.0" fill="#a4a4a4"/>
<rect x="147.5" y="792.1" width="5.0" height="5.0" fill="#a4a4a4"/>
<rect x="167.7" y="792.1" width="5.0" height="5.0" fill="#a4a4a4"/>
<rect x="187.9" y="792.1" width="5.0" height="5.0" fill="#a4a4a4"/>
<rect x="208.1" y="792.1" width="5.0" height="5.0" fill="#a4a4a4"/>
<rect x="228.3" y="792.1" width="5.0" height="5.0" fill="#a4a4a4"/>
<rect x="248.5" y="792.1" width="5.0" height="5.0" fill="#a4a4a4"/>
<rect x="268.7" y="792.1" width="5.0" height="5.0" fill="#a4a4a4"/>
<rect x="288.9" y="792.1" width="5.0" height="5.0" fill="#a4a4a4"/>
<rect x="309.1" y="792.1" width="5.0" height="5.0" fill="#a4a4a4"/>
<rect x="329.3" y="792.1" width="5.0" height="5.0" fill="#a4a4a4"/>
<rect x="349.5" y="792.1" width="5.0" height="5.0" fill="#a4a4a4"/>
<rect x="369.7" y="792.1" width="5.0" height="5.0" fill="#a4a4a4"/>
<rect x="389.9" y="792.1" width="5.0" height="5.0" fill="#a4a4a4"/>
<rect x="410.1" y="792.1" width="5.0" height="5.0" fill="#a4a4a4"/>
<rect x="430.3" y="792.1" width="5.0" height="5.0" fill="#a4a4a4"/>
<rect x="450.5" y="792.1" width="5.0" height="5.0" fill="#a4a4a4"/>
<rect x="470.7" y="792.1" width="5.0" height="5.0" fill="#a4a4a4"/>
<rect x="490.9" y="792.1" width="5.0" height="5.0" fill="#a4a4a4"/>
<rect x="511.1" y="792.1" width="5.0" height="5.0" fill="#a4a4a4"/>
<rect x="531.3" y="792.1" width="5.0" height="5.0" fill="#a4a4a4"/>
<rect x="551.5" y="792.1" width="5.0" height="5.0" fill="#a4a4a4"/>
<rect x="571.7" y="792.1" width="5.0" height="5.0" fill="#a4a4a4"/>
<rect x="591.9" y="792.1" width="5.0" height="5.0" fill="#a4a4a4"/>
<rect x="612.1" y="792.1" width="5.0" height="5.0" fill="#a4a4a4"/>
<rect x="632.3" y="792.1" width="5.0" height="5.0" fill="#a4a4a4"/>
<rect x="652.5" y="792.1" width="5.0" height="5.0" fill="#a4a4a4"/>
<rect x="672.7" y="792.1" width="5.0" height="5.0" fill="#a4a4a4"/>
<rect x="692.9" y="792.1" width="5.0" height="5.0" fill="#a4a4a4"/>
<rect x="713.1" y="792.1" width="5.0" height="5.0" fill="#a4a4a4"/>
<rect x="733.3" y="792.1" width="5.0" height="5.0" fill="#a4a4a4"/>
<rect x="753.5" y="792.1" width="5.0" height="5.0" fill="#a4a4a4"/>
<rect x="773.7" y="792.1" width="5.0" height="5.0" fill="#a4a4a4"/>
<rect x="793.9" y="792.1" width="5.0" height="5.0" fill="#a4a4a4"/>
<rect x="814.1" y="792.1" width="5.0" height="5.0" fill="#a4a4a4"/>
<rect x="834.3" y="792.1" width="5.0" height="5.0" fill="#a4a4a4"/>
<rect x="854.5" y="792.1" width="5.0" height="5.0" fill="#a4a4a4"/>
<rect x="874.7" y="792.1" width="5.0" height="5.0" fill="#a4a4a4"/>
<rect x="894.9" y="792.1" width="5.0" height="5.0" fill="#a4a4a4"/>
<rect x="915.1" y="792.1" width="5.0" height="5.0" fill="#a4a4a4"/>
<rect x="935.3" y="792.1" width="5.0" height="5.0" fill="#a4a4a4"/>
<rect x="955.5" y="792.1" width="5.0" height="5.0" fill="#a4a4a4"/>
<rect x="975.7" y="792.1" width="5.0" height="5.0" fill="#a4a4a4"/>
<rect x="995.9" y="792.1" width="5.0" height="5.0" fill="#a4a4a4"/>
<rect x="1016.1" y="792.1" width="5.0" height="5.0" fill="#a4a4a4"/>
<rect x="1036.3" y="792.1" width="5.0" height="5.0" fill="#a4a4a4"/>
<rect x="1056.5" y="792.1" width="5.0" height="5.0" fill="#a4a4a4"/>
<rect x="1076.7" y="792.1" width="5.0" height="5.0" fill="#a4a4a4"/>
<rect x="1096.9" y="792.1" width="5.0" height="5.0" fill="#a4a4a4"/>
<rect x="1117.1" y="792.1" width="5.0" height="5.0" fill="#a4a4a4"/>
<rect x="1137.3" y="792.1" width="5.0" height="5.0" fill="#a4a4a4"/>
<rect x="1157.5" y="792.1" width="5.0" height="5.0" fill="#a4a4a4"/>
<rect x="1177.7" y="792.1" width="5.0" height="5.0" fill="#a4a4a4"/>
<rect x="1197.9" y="792.1" width="5.0" height="5.0" fill="#a4a4a4"/>
<rect x="1218.1" y="792.1" width="5.0" height="5.0" fill="#a4a4a4"/>
<rect x="1238.3" y="792.1" width="5.0" height="5.0" fill="#a4a4a4"/>
<rect x="1258.5" y="792.1" width="5.0" height="5.0" fill="#a4a4a4"/>
<rect x="1278.7" y="792.1" width="5.0" height="5.0" fill="#a4a4a4"/>
<rect x="1298.9" y="792.1" width="5.0" height="5.0" fill="#a4a4a4"/>
<rect x="1319.1" y="792.1" width="5.0" height="5.0" fill="#a4a4a4"/>
<rect x="147.5" y="842.0" width="5.0" height="5.0" fill="#a4a4a4"/>
<rect x="167.7" y="842.0" width="5.0" height="5.0" fill="#a4a4a4"/>
<rect x="187.9" y="842.0" width="5.0" height="5.0" fill="#a4a4a4"/>
<rect x="208.1" y="842.0" width="5.0" height="5.0" fill="#a4a4a4"/>
<rect x="228.3" y="842.0" width="5.0" height="5.0" fill="#a4a4a4"/>
<rect x="248.5" y="842.0" width="5.0" height="5.0" fill="#a4a4a4"/>
<rect x="268.7" y="842.0" width="5.0" height="5.0" fill="#a4a4a4"/>
<rect x="288.9" y="842.0" width="5.0" height="5.0" fill="#a4a4a4"/>
<rect x="309.1" y="842.0" width="5.0" height="5.0" fill="#a4a4a4"/>
<rect x="329.3" y="842.0" width="5.0" height="5.0" fill="#a4a4a4"/>
<rect x="349.5" y="842.0" width="5.0" height="5.0" fill="#a4a4a4"/>
<rect x="369.7" y="842.0" width="5.0" height="5.0" fill="#a4a4a4"/>
<rect x="389.9" y="842.0" width="5.0" height="5.0" fill="#a4a4a4"/>
<rect x="410.1" y="842.0" width="5.0" height="5.0" fill="#a4a4a4"/>
<rect x="430.3" y="842.0" width="5.0" height="5.0" fill="#a4a4a4"/>
<rect x="450.5" y="842.0" width="5.0" height="5.0" fill="#a4a4a4"/>
<rect x="470.7" y="842.0" width="5.0" height="5.0" fill="#a4a4a4"/>
<rect x="490.9" y="842.0" width="5.0" height="5.0" fill="#a4a4a4"/>
<rect x="511.1" y="842.0" width="5.0" height="5.0" fill="#a4a4a4"/>
<rect x="531.3" y="842.0" width="5.0" height="5.0" fill="#a4a4a4"/>
<rect x="551.5" y="842.0" width="5.0" height="5.0" fill="#a4a4a4"/>
<rect x="571.7" y="842.0" width="5.0" height="5.0" fill="#a4a4a4"/>
<rect x="591.9" y="842.0" width="5.0" height="5.0" fill="#a4a4a4"/>
<rect x="612.1" y="842.0" width="5.0" height="5.0" fill="#a4a4a4"/>
<rect x="632.3" y="842.0" width="5.0" height="5.0" fill="#a4a4a4"/>
<rect x="652.5" y="842.0" width="5.0" height="5.0" fill="#a4a4a4"/>
<rect x="672.7" y="842.0" width="5.0" height="5.0" fill="#a4a4a4"/>
<rect x="692.9" y="842.0" width="5.0" height="5.0" fill="#a4a4a4"/>
<rect x="713.1" y="842.0" width="5.0" height="5.0" fill="#a4a4a4"/>
<rect x="733.3" y="842.0" width="5.0" height="5.0" fill="#a4a4a4"/>
<rect x="753.5" y="842.0" width="5.0" height="5.0" fill="#a4a4a4"/>
<rect x="773.7" y="842.0" width="5.0" height="5.0" fill="#a4a4a4"/>
<rect x="793.9" y="842.0" width="5.0" height="5.0" fill="#a4a4a4"/>
<rect x="814.1" y="842.0" width="5.0" height="5.0" fill="#a4a4a4"/>
<rect x="834.3" y="842.0" width="5.0" height="5.0" fill="#a4a4a4"/>
<rect x="854.5" y="842.0" width="5.0" height="5.0" fill="#a4a4a4"/>
<rect x="874.7" y="842.0" width="5.0" height="5.0" fill="#a4a4a4"/>
<rect x="894.9" y="842.0" width="5.0" height="5.0" fill="#a4a4a4"/>
<rect x="915.1" y="842.0" width="5.0" height="5.0" fill="#a4a4a4"/>
<rect x="935.3" y="842.0" width="5.0" height="5.0" fill="#a4a4a4"/>
<rect x="955.5" y="842.0" width="5.0" height="5.0" fill="#a4a4a4"/>
<rect x="975.7" y="842.0" width="5.0" height="5.0" fill="#a4a4a4"/>
<rect x="995.9" y="842.0" width="5.0" height="5.0" fill="#a4a4a4"/>
<rect x="1016.1" y="842.0" width="5.0" height="5.0" fill="#a4a4a4"/>
<rect x="1036.3" y="842.0" width="5.0" height="5.0" fill="#a4a4a4"/>
<rect x="1056.5" y="842.0" width="5.0" height="5.0" fill="#a4a4a4"/>
<rect x="1076.7" y="842.0" width="5.0" height="5.0" fill="#a4a4a4"/>
<rect x="1096.9" y="842.0" width="5.0" height="5.0" fill="#a4a4a4"/>
<rect x="1117.1" y="842.0" width="5.0" height="5.0" fill="#a4a4a4"/>
<rect x="1137.3" y="842.0" width="5.0" height="5.0" fill="#a4a4a4"/>
<rect x="1157.5" y="842.0" width="5.0" height="5.0" fill="#a4a4a4"/>
<rect x="1177.7" y="842.0" width="5.0" height="5.0" fill="#a4a4a4"/>
<rect x="1197.9" y="842.0" width="5.0" height="5.0" fill="#a4a4a4"/>
<rect x="1218.1" y="842.0" width="5.0" height="5.0" fill="#a4a4a4"/>
<rect x="1238.3" y="842.0" width="5.0" height="5.0" fill="#a4a4a4"/>
<rect x="1258.5" y="842.0" width="5.0" height="5.0" fill="#a4a4a4"/>
<rect x="1278.7" y="842.0" width="5.0" height="5.0" fill="#a4a4a4"/>
<rect x="1298.9" y="842.0" width="5.0" height="5.0" fill="#a4a4a4"/>
<rect x="1319.1" y="842.0" width="5.0" height="5.0" fill="#a4a4a4"/>
<rect x="147.5" y="892.2" width="5.0" height="5.0" fill="#a4a4a4"/>
<rect x="167.7" y="892.2" width="5.0" height="5.0" fill="#a4a4a4"/>
<rect x="187.9" y="892.2" width="5.0" height="5.0" fill="#a4a4a4"/>
<rect x="208.1" y="892.2" width="5.0" height="5.0" fill="#a4a4a4"/>
<rect x="228.3" y="892.2" width="5.0" height="5.0" fill="#a4a4a4"/>
<rect x="248.5" y="892.2" width="5.0" height="5.0" fill="#a4a4a4"/>
<rect x="268.7" y="892.2" width="5.0" height="5.0" fill="#a4a4a4"/>
<rect x="288.9" y="892.2" width="5.0" height="5.0" fill="#a4a4a4"/>
<rect x="309.1" y="892.2" width="5.0" height="5.0" fill="#a4a4a4"/>
<rect x="329.3" y="892.2" width="5.0" height="5.0" fill="#a4a4a4"/>
<rect x="349.5" y="892.2" width="5.0" height="5.0" fill="#a4a4a4"/>
<rect x="369.7" y="892.2" width="5.0" height="5.0" fill="#a4a4a4"/>
<rect x="389.9" y="892.2" width="5.0" height="5.0" fill="#a4a4a4"/>
<rect x="410.1" y="892.2" width="5.0" height="5.0" fill="#a4a4a4"/>
<rect x="430.3" y="892.2" width="5.0" height="5.0" fill="#a4a4a4"/>
<rect x="450.5" y="892.2" width="5.0" height="5.0" fill="#a4a4a4"/>
<rect x="470.7" y="892.2" width="5.0" height="5.0" fill="#a4a4a4"/>
<rect x="490.9" y="892.2" width="5.0" height="5.0" fill="#a4a4a4"/>
<rect x="511.1" y="892.2" width="5.0" height="5.0" fill="#a4a4a4"/>
<rect x="531.3" y="892.2" width="5.0" height="5.0" fill="#a4a4a4"/>
<rect x="551.5" y="892.2" width="5.0" height="5.0" fill="#a4a4a4"/>
<rect x="571.7" y="892.2" width="5.0" height="5.0" fill="#a4a4a4"/>
<rect x="591.9" y="892.2" width="5.0" height="5.0" fill="#a4a4a4"/>
<rect x="612.1" y="892.2" width="5.0" height="5.0" fill="#a4a4a4"/>
<rect x="632.3" y="892.2" width="5.0" height="5.0" fill="#a4a4a4"/>
<rect x="652.5" y="892.2" width="5.0" height="5.0" fill="#a4a4a4"/>
<rect x="672.7" y="892.2" width="5.0" height="5.0" fill="#a4a4a4"/>
<rect x="692.9" y="892.2" width="5.0" height="5.0" fill="#a4a4a4"/>
<rect x="713.1" y="892.2" width="5.0" height="5.0" fill="#a4a4a4"/>
<rect x="733.3" y="892.2" width="5.0" height="5.0" fill="#a4a4a4"/>
<rect x="753.5" y="892.2" width="5.0" height="5.0" fill="#a4a4a4"/>
<rect x="773.7" y="892.2" width="5.0" height="5.0" fill="#a4a4a4"/>
<rect x="793.9" y="892.2" width="5.0" height="5.0" fill="#a4a4a4"/>
<rect x="814.1" y="892.2" width="5.0" height="5.0" fill="#a4a4a4"/>
<rect x="834.3" y="892.2" width="5.0" height="5.0" fill="#a4a4a4"/>
<rect x="854.5" y="892.2" width="5.0" height="5.0" fill="#a4a4a4"/>
<rect x="874.7" y="892.2" width="5.0" height="5.0" fill="#a4a4a4"/>
<rect x="894.9" y="892.2" width="5.0" height="5.0" fill="#a4a4a4"/>
<rect x="915.1" y="892.2" width="5.0" height="5.0" fill="#a4a4a4"/>
<rect x="935.3" y="892.2" width="5.0" height="5.0" fill="#a4a4a4"/>
<rect x="955.5" y="892.2" width="5.0" height="5.0" fill="#a4a4a4"/>
<rect x="975.7" y="892.2" width="5.0" height="5.0" fill="#a4a4a4"/>
<rect x="995.9" y="892.2" width="5.0" height="5.0" fill="#a4a4a4"/>
<rect x="1016.1" y="892.2" width="5.0" height="5.0" fill="#a4a4a4"/>
<rect x="1036.3" y="892.2" width="5.0" height="5.0" fill="#a4a4a4"/>
<rect x="1056.5" y="892.2" width="5.0" height="5.0" fill="#a4a4a4"/>
<rect x="1076.7" y="892.2" width="5.0" height="5.0" fill="#a4a4a4"/>
<rect x="1096.9" y="892.2" width="5.0" height="5.0" fill="#a4a4a4"/>
<rect x="1117.1" y="892.2" width="5.0" height="5.0" fill="#a4a4a4"/>
<rect x="1137.3" y="892.2" width="5.0" height="5.0" fill="#a4a4a4"/>
<rect x="1157.5" y="892.2" width="5.0" height="5.0" fill="#a4a4a4"/>
<rect x="1177.7" y="892.2" width="5.0" height="5.0" fill="#a4a4a4"/>
<rect x="1197.9" y="892.2" width="5.0" height="5.0" fill="#a4a4a4"/>
<rect x="1218.1" y="892.2" width="5.0" height="5.0" fill="#a4a4a4"/>
<rect x="1238.3" y="892.2" width="5.0" height="5.0" fill="#a4a4a4"/>
<rect x="1258.5" y="892.2" width="5.0" height="5.0" fill="#a4a4a4"/>
<rect x="1278.7" y="892.2" width="5.0" height="5.0" fill="#a4a4a4"/>
<rect x="1298.9" y="892.2" width="5.0" height="5.0" fill="#a4a4a4"/>
<rect x="1319.1" y="892.2" width="5.0" height="5.0" fill="#a4a4a4"/>
<rect x="147.5" y="947.0" width="5.0" height="5.0" fill="#a4a4a4"/>
<rect x="167.7" y="947.0" width="5.0" height="5.0" fill="#a4a4a4"/>
<rect x="187.9" y="947.0" width="5.0" height="5.0" fill="#a4a4a4"/>
<rect x="208.1" y="947.0" width="5.0" height="5.0" fill="#a4a4a4"/>
<rect x="228.3" y="947.0" width="5.0" height="5.0" fill="#a4a4a4"/>
<rect x="248.5" y="947.0" width="5.0" height="5.0" fill="#a4a4a4"/>
<rect x="268.7" y="947.0" width="5.0" height="5.0" fill="#a4a4a4"/>
<rect x="288.9" y="947.0" width="5.0" height="5.0" fill="#a4a4a4"/>
<rect x="309.1" y="947.0" width="5.0" height="5.0" fill="#a4a4a4"/>
<rect x="329.3" y="947.0" width="5.0" height="5.0" fill="#a4a4a4"/>
<rect x="349.5" y="947.0" width="5.0" height="5.0" fill="#a4a4a4"/>
<rect x="369.7" y="947.0" width="5.0" height="5.0" fill="#a4a4a4"/>
<rect x="389.9" y="947.0" width="5.0" height="5.0" fill="#a4a4a4"/>
<rect x="410.1" y="947.0" width="5.0" height="5.0" fill="#a4a4a4"/>
<rect x="430.3" y="947.0" width="5.0" height="5.0" fill="#a4a4a4"/>
<rect x="450.5" y="947.0" width="5.0" height="5.0" fill="#a4a4a4"/>
<rect x="470.7" y="947.0" width="5.0" height="5.0" fill="#a4a4a4"/>
<rect x="490.9" y="947.0" width="5.0" height="5.0" fill="#a4a4a4"/>
<rect x="511.1" y="947.0" width="5.0" height="5.0" fill="#a4a4a4"/>
<rect x="531.3" y="947.0" width="5.0" height="5.0" fill="#a4a4a4"/>
<rect x="551.5" y="947.0" width="5.0" height="5.0" fill="#a4a4a4"/>
<rect x="571.7" y="947.0" width="5.0" height="5.0" fill="#a4a4a4"/>
<rect x="591.9" y="947.0" width="5.0" height="5.0" fill="#a4a4a4"/>
<rect x="612.1" y="947.0" width="5.0" height="5.0" fill="#a4a4a4"/>
<rect x="632.3" y="947.0" width="5.0" height="5.0" fill="#a4a4a4"/>
<rect x="652.5" y="947.0" width="5.0" height="5.0" fill="#a4a4a4"/>
<rect x="672.7" y="947.0" width="5.0" height="5.0" fill="#a4a4a4"/>
<rect x="692.9" y="947.0" width="5.0" height="5.0" fill="#a4a4a4"/>
<rect x="713.1" y="947.0" width="5.0" height="5.0" fill="#a4a4a4"/>
<rect x="733.3" y="947.0" width="5.0" height="5.0" fill="#a4a4a4"/>
<rect x="753.5" y="947.0" width="5.0" height="5.0" fill="#a4a4a4"/>
<rect x="773.7" y="947.0" width="5.0" height="5.0" fill="#a4a4a4"/>
<rect x="793.9" y="947.0" width="5.0" height="5.0" fill="#a4a4a4"/>
<rect x="814.1" y="947.0" width="5.0" height="5.0" fill="#a4a4a4"/>
<rect x="834.3" y="947.0" width="5.0" height="5.0" fill="#a4a4a4"/>
<rect x="854.5" y="947.0" width="5.0" height="5.0" fill="#a4a4a4"/>
<rect x="874.7" y="947.0" width="5.0" height="5.0" fill="#a4a4a4"/>
<rect x="894.9" y="947.0" width="5.0" height="5.0" fill="#a4a4a4"/>
<rect x="915.1" y="947.0" width="5.0" height="5.0" fill="#a4a4a4"/>
<rect x="935.3" y="947.0" width="5.0" height="5.0" fill="#a4a4a4"/>
<rect x="955.5" y="947.0" width="5.0" height="5.0" fill="#a4a4a4"/>
<rect x="975.7" y="947.0" width="5.0" height="5.0" fill="#a4a4a4"/>
<rect x="995.9" y="947.0" width="5.0" height="5.0" fill="#a4a4a4"/>
<rect x="1016.1" y="947.0" width="5.0" height="5.0" fill="#a4a4a4"/>
<rect x="1036.3" y="947.0" width="5.0" height="5.0" fill="#a4a4a4"/>
<rect x="1056.5" y="947.0" width="5.0" height="5.0" fill="#a4a4a4"/>
<rect x="1076.7" y="947.0" width="5.0" height="5.0" fill="#a4a4a4"/>
<rect x="1096.9" y="947.0" width="5.0" height="5.0" fill="#a4a4a4"/>
<rect x="1117.1" y="947.0" width="5.0" height="5.0" fill="#a4a4a4"/>
<rect x="1137.3" y="947.0" width="5.0" height="5.0" fill="#a4a4a4"/>
<rect x="1157.5" y="947.0" width="5.0" height="5.0" fill="#a4a4a4"/>
<rect x="1177.7" y="947.0" width="5.0" height="5.0" fill="#a4a4a4"/>
<rect x="1197.9" y="947.0" width="5.0" height="5.0" fill="#a4a4a4"/>
<rect x="1218.1" y="947.0" width="5.0" height="5.0" fill="#a4a4a4"/>
<rect x="1238.3" y="947.0" width="5.0" height="5.0" fill="#a4a4a4"/>
<rect x="1258.5" y="947.0" width="5.0" height="5.0" fill="#a4a4a4"/>
<rect x="1278.7" y="947.0" width="5.0" height="5.0" fill="#a4a4a4"/>
<rect x="1298.9" y="947.0" width="5.0" height="5.0" fill="#a4a4a4"/>
<rect x="1319.1" y="947.0" width="5.0" height="5.0" fill="#a4a4a4"/>
<rect x="147.5" y="997.3" width="5.0" height="5.0" fill="#a4a4a4"/>
<rect x="167.7" y="997.3" width="5.0" height="5.0" fill="#a4a4a4"/>
<rect x="187.9" y="997.3" width="5.0" height="5.0" fill="#a4a4a4"/>
<rect x="208.1" y="997.3" width="5.0" height="5.0" fill="#a4a4a4"/>
<rect x="228.3" y="997.3" width="5.0" height="5.0" fill="#a4a4a4"/>
<rect x="248.5" y="997.3" width="5.0" height="5.0" fill="#a4a4a4"/>
<rect x="268.7" y="997.3" width="5.0" height="5.0" fill="#a4a4a4"/>
<rect x="288.9" y="997.3" width="5.0" height="5.0" fill="#a4a4a4"/>
<rect x="309.1" y="997.3" width="5.0" height="5.0" fill="#a4a4a4"/>
<rect x="329.3" y="997.3" width="5.0" height="5.0" fill="#a4a4a4"/>
<rect x="349.5" y="997.3" width="5.0" height="5.0" fill="#a4a4a4"/>
<rect x="369.7" y="997.3" width="5.0" height="5.0" fill="#a4a4a4"/>
<rect x="389.9" y="997.3" width="5.0" height="5.0" fill="#a4a4a4"/>
<rect x="410.1" y="997.3" width="5.0" height="5.0" fill="#a4a4a4"/>
<rect x="430.3" y="997.3" width="5.0" height="5.0" fill="#a4a4a4"/>
<rect x="450.5" y="997.3" width="5.0" height="5.0" fill="#a4a4a4"/>
<rect x="470.7" y="997.3" width="5.0" height="5.0" fill="#a4a4a4"/>
<rect x="490.9" y="997.3" width="5.0" height="5.0" fill="#a4a4a4"/>
<rect x="511.1" y="997.3" width="5.0" height="5.0" fill="#a4a4a4"/>
<rect x="531.3" y="997.3" width="5.0" height="5.0" fill="#a4a4a4"/>
<rect x="551.5" y="997.3" width="5.0" height="5.0" fill="#a4a4a4"/>
<rect x="571.7" y="997.3" width="5.0" height="5.0" fill="#a4a4a4"/>
<rect x="591.9" y="997.3" width="5.0" height="5.0" fill="#a4a4a4"/>
<rect x="612.1" y="997.3" width="5.0" height="5.0" fill="#a4a4a4"/>
<rect x="632.3" y="997.3" width="5.0" height="5.0" fill="#a4a4a4"/>
<rect x="652.5" y="997.3" width="5.0" height="5.0" fill="#a4a4a4"/>
<rect x="672.7" y="997.3" width="5.0" height="5.0" fill="#a4a4a4"/>
<rect x="692.9" y="997.3" width="5.0" height="5.0" fill="#a4a4a4"/>
<rect x="713.1" y="997.3" width="5.0" height="5.0" fill="#a4a4a4"/>
<rect x="733.3" y="997.3" width="5.0" height="5.0" fill="#a4a4a4"/>
<rect x="753.5" y="997.3" width="5.0" height="5.0" fill="#a4a4a4"/>
<rect x="773.7" y="997.3" width="5.0" height="5.0" fill="#a4a4a4"/>
<rect x="793.9" y="997.3" width="5.0" height="5.0" fill="#a4a4a4"/>
<rect x="814.1" y="997.3" width="5.0" height="5.0" fill="#a4a4a4"/>
<rect x="834.3" y="997.3" width="5.0" height="5.0" fill="#a4a4a4"/>
<rect x="854.5" y="997.3" width="5.0" height="5.0" fill="#a4a4a4"/>
<rect x="874.7" y="997.3" width="5.0" height="5.0" fill="#a4a4a4"/>
<rect x="894.9" y="997.3" width="5.0" height="5.0" fill="#a4a4a4"/>
<rect x="915.1" y="997.3" width="5.0" height="5.0" fill="#a4a4a4"/>
<rect x="935.3" y="997.3" width="5.0" height="5.0" fill="#a4a4a4"/>
<rect x="955.5" y="997.3" width="5.0" height="5.0" fill="#a4a4a4"/>
<rect x="975.7" y="997.3" width="5.0" height="5.0" fill="#a4a4a4"/>
<rect x="995.9" y="997.3" width="5.0" height="5.0" fill="#a4a4a4"/>
<rect x="1016.1" y="997.3" width="5.0" height="5.0" fill="#a4a4a4"/>
<rect x="1036.3" y="997.3" width="5.0" height="5.0" fill="#a4a4a4"/>
<rect x="1056.5" y="997.3" width="5.0" height="5.0" fill="#a4a4a4"/>
<rect x="1076.7" y="997.3" width="5.0" height="5.0" fill="#a4a4a4"/>
<rect x="1096.9" y="997.3" width="5.0" height="5.0" fill="#a4a4a4"/>
<rect x="1117.1" y="997.3" width="5.0" height="5.0" fill="#a4a4a4"/>
<rect x="1137.3" y="997.3" width="5.0" height="5.0" fill="#a4a4a4"/>
<rect x="1157.5" y="997.3" width="5.0" height="5.0" fill="#a4a4a4"/>
<rect x="1177.7" y="997.3" width="5.0" height="5.0" fill="#a4a4a4"/>
<rect x="1197.9" y="997.3" width="5.0" height="5.0" fill="#a4a4a4"/>
<rect x="1218.1" y="997.3" width="5.0" height="5.0" fill="#a4a4a4"/>
<rect x="1238.3" y="997.3" width="5.0" height="5.0" fill="#a4a4a4"/>
<rect x="1258.5" y="997.3" width="5.0" height="5.0" fill="#a4a4a4"/>
<rect x="1278.7" y="997.3" width="5.0" height="5.0" fill="#a4a4a4"/>
<rect x="1298.9" y="997.3" width="5.0" height="5.0" fill="#a4a4a4"/>
<rect x="1319.1" y="997.3" width="5.0" height="5.0" fill="#a4a4a4"/>
<rect x="147.5" y="1047.5" width="5.0" height="5.0" fill="#a4a4a4"/>
<rect x="167.7" y="1047.5" width="5.0" height="5.0" fill="#a4a4a4"/>
<rect x="187.9" y="1047.5" width="5.0" height="5.0" fill="#a4a4a4"/>
<rect x="208.1" y="1047.5" width="5.0" height="5.0" fill="#a4a4a4"/>
<rect x="228.3" y="1047.5" width="5.0" height="5.0" fill="#a4a4a4"/>
<rect x="248.5" y="1047.5" width="5.0" height="5.0" fill="#a4a4a4"/>
<rect x="268.7" y="1047.5" width="5.0" height="5.0" fill="#a4a4a4"/>
<rect x="288.9" y="1047.5" width="5.0" height="5.0" fill="#a4a4a4"/>
<rect x="309.1" y="1047.5" width="5.0" height="5.0" fill="#a4a4a4"/>
<rect x="329.3" y="1047.5" width="5.0" height="5.0" fill="#a4a4a4"/>
<rect x="349.5" y="1047.5" width="5.0" height="5.0" fill="#a4a4a4"/>
<rect x="369.7" y="1047.5" width="5.0" height="5.0" fill="#a4a4a4"/>
<rect x="389.9" y="1047.5" width="5.0" height="5.0" fill="#a4a4a4"/>
<rect x="410.1" y="1047.5" width="5.0" height="5.0" fill="#a4a4a4"/>
<rect x="430.3" y="1047.5" width="5.0" height="5.0" fill="#a4a4a4"/>
<rect x="450.5" y="1047.5" width="5.0" height="5.0" fill="#a4a4a4"/>
<rect x="470.7" y="1047.5" width="5.0" height="5.0" fill="#a4a4a4"/>
<rect x="490.9" y="1047.5" width="5.0" height="5.0" fill="#a4a4a4"/>
<rect x="511.1" y="1047.5" width="5.0" height="5.0" fill="#a4a4a4"/>
<rect x="531.3" y="1047.5" width="5.0" height="5.0" fill="#a4a4a4"/>
<rect x="551.5" y="1047.5" width="5.0" height="5.0" fill="#a4a4a4"/>
<rect x="571.7" y="1047.5" width="5.0" height="5.0" fill="#a4a4a4"/>
<rect x="591.9" y="1047.5" width="5.0" height="5.0" fill="#a4a4a4"/>
<rect x="612.1" y="1047.5" width="5.0" height="5.0" fill="#a4a4a4"/>
<rect x="632.3" y="1047.5" width="5.0" height="5.0" fill="#a4a4a4"/>
<rect x="652.5" y="1047.5" width="5.0" height="5.0" fill="#a4a4a4"/>
<rect x="672.7" y="1047.5" width="5.0" height="5.0" fill="#a4a4a4"/>
<rect x="692.9" y="1047.5" width="5.0" height="5.0" fill="#a4a4a4"/>
<rect x="713.1" y="1047.5" width="5.0" height="5.0" fill="#a4a4a4"/>
<rect x="733.3" y="1047.5" width="5.0" height="5.0" fill="#a4a4a4"/>
<rect x="753.5" y="1047.5" width="5.0" height="5.0" fill="#a4a4a4"/>
<rect x="773.7" y="1047.5" width="5.0" height="5.0" fill="#a4a4a4"/>
<rect x="793.9" y="1047.5" width="5.0" height="5.0" fill="#a4a4a4"/>
<rect x="814.1" y="1047.5" width="5.0" height="5.0" fill="#a4a4a4"/>
<rect x="834.3" y="1047.5" width="5.0" height="5.0" fill="#a4a4a4"/>
<rect x="854.5" y="1047.5" width="5.0" height="5.0" fill="#a4a4a4"/>
<rect x="874.7" y="1047.5" width="5.0" height="5.0" fill="#a4a4a4"/>
<rect x="894.9" y="1047.5" width="5.0" height="5.0" fill="#a4a4a4"/>
<rect x="915.1" y="1047.5" width="5.0" height="5.0" fill="#a4a4a4"/>
<rect x="935.3" y="1047.5" width="5.0" height="5.0" fill="#a4a4a4"/>
<rect x="955.5" y="1047.5" width="5.0" height="5.0" fill="#a4a4a4"/>
<rect x="975.7" y="1047.5" width="5.0" height="5.0" fill="#a4a4a4"/>
<rect x="995.9" y="1047.5" width="5.0" height="5.0" fill="#a4a4a4"/>
<rect x="1016.1" y="1047.5" width="5.0" height="5.0" fill="#a4a4a4"/>
<rect x="1036.3" y="1047.5" width="5.0" height="5.0" fill="#a4a4a4"/>
<rect x="1056.5" y="1047.5" width="5.0" height="5.0" fill="#a4a4a4"/>
<rect x="1076.7" y="1047.5" width="5.0" height="5.0" fill="#a4a4a4"/>
<rect x="1096.9" y="1047.5" width="5.0" height="5.0" fill="#a4a4a4"/>
<rect x="1117.1" y="1047.5" width="5.0" height="5.0" fill="#a4a4a4"/>
<rect x="1137.3" y="1047.5" width="5.0" height="5.0" fill="#a4a4a4"/>
<rect x="1157.5" y="1047.5" width="5.0" height="5.0" fill="#a4a4a4"/>
<rect x="1177.7" y="1047.5" width="5.0" height="5.0" fill="#a4a4a4"/>
<rect x="1197.9" y="1047.5" width="5.0" height="5.0" fill="#a4a4a4"/>
<rect x="1218.1" y="1047.5" width="5.0" height="5.0" fill="#a4a4a4"/>
<rect x="1238.3" y="1047.5" width="5.0" height="5.0" fill="#a4a4a4"/>
<rect x="1258.5" y="1047.5" width="5.0" height="5.0" fill="#a4a4a4"/>
<rect x="1278.7" y="1047.5" width="5.0" height="5.0" fill="#a4a4a4"/>
<rect x="1298.9" y="1047.5" width="5.0" height="5.0" fill="#a4a4a4"/>
<rect x="1319.1" y="1047.5" width="5.0" height="5.0" fill="#a4a4a4"/>
<rect x="329.9" y="31.9" width="5.0" height="5.0" fill="#a4a4a4"/>
<rect x="329.9" y="52.0" width="5.0" height="5.0" fill="#a4a4a4"/>
<rect x="329.9" y="72.2" width="5.0" height="5.0" fill="#a4a4a4"/>
<rect x="329.9" y="92.3" width="5.0" height="5.0" fill="#a4a4a4"/>
<rect x="329.9" y="132.7" width="5.0" height="5.0" fill="#a4a4a4"/>
<rect x="329.9" y="152.8" width="5.0" height="5.0" fill="#a4a4a4"/>
<rect x="329.9" y="173.0" width="5.0" height="5.0" fill="#a4a4a4"/>
<rect x="329.9" y="193.1" width="5.0" height="5.0" fill="#a4a4a4"/>
<rect x="329.9" y="213.3" width="5.0" height="5.0" fill="#a4a4a4"/>
<rect x="329.9" y="233.4" width="5.0" height="5.0" fill="#a4a4a4"/>
<rect x="329.9" y="253.6" width="5.0" height="5.0" fill="#a4a4a4"/>
<rect x="329.9" y="273.7" width="5.0" height="5.0" fill="#a4a4a4"/>
<rect x="329.9" y="314.0" width="5.0" height="5.0" fill="#a4a4a4"/>
<rect x="329.9" y="334.1" width="5.0" height="5.0" fill="#a4a4a4"/>
<rect x="329.9" y="354.3" width="5.0" height="5.0" fill="#a4a4a4"/>
<rect x="329.9" y="374.4" width="5.0" height="5.0" fill="#a4a4a4"/>
<rect x="329.9" y="394.6" width="5.0" height="5.0" fill="#a4a4a4"/>
<rect x="329.9" y="414.7" width="5.0" height="5.0" fill="#a4a4a4"/>
<rect x="329.9" y="434.9" width="5.0" height="5.0" fill="#a4a4a4"/>
<rect x="329.9" y="455.0" width="5.0" height="5.0" fill="#a4a4a4"/>
<rect x="329.9" y="475.2" width="5.0" height="5.0" fill="#a4a4a4"/>
<rect x="329.9" y="495.3" width="5.0" height="5.0" fill="#a4a4a4"/>
<rect x="329.9" y="515.5" width="5.0" height="5.0" fill="#a4a4a4"/>
<rect x="329.9" y="535.6" width="5.0" height="5.0" fill="#a4a4a4"/>
<rect x="329.9" y="575.9" width="5.0" height="5.0" fill="#a4a4a4"/>
<rect x="329.9" y="596.1" width="5.0" height="5.0" fill="#a4a4a4"/>
<rect x="329.9" y="616.2" width="5.0" height="5.0" fill="#a4a4a4"/>
<rect x="329.9" y="656.5" width="5.0" height="5.0" fill="#a4a4a4"/>
<rect x="329.9" y="676.7" width="5.0" height="5.0" fill="#a4a4a4"/>
<rect x="329.9" y="696.8" width="5.0" height="5.0" fill="#a4a4a4"/>
<rect x="329.9" y="717.0" width="5.0" height="5.0" fill="#a4a4a4"/>
<rect x="329.9" y="757.3" width="5.0" height="5.0" fill="#a4a4a4"/>
<rect x="329.9" y="777.4" width="5.0" height="5.0" fill="#a4a4a4"/>
<rect x="329.9" y="797.6" width="5.0" height="5.0" fill="#a4a4a4"/>
<rect x="329.9" y="817.7" width="5.0" height="5.0" fill="#a4a4a4"/>
<rect x="329.9" y="858.0" width="5.0" height="5.0" fill="#a4a4a4"/>
<rect x="329.9" y="878.2" width="5.0" height="5.0" fill="#a4a4a4"/>
<rect x="329.9" y="898.3" width="5.0" height="5.0" fill="#a4a4a4"/>
<rect x="329.9" y="918.5" width="5.0" height="5.0" fill="#a4a4a4"/>
<rect x="329.9" y="938.6" width="5.0" height="5.0" fill="#a4a4a4"/>
<rect x="329.9" y="958.8" width="5.0" height="5.0" fill="#a4a4a4"/>
<rect x="329.9" y="978.9" width="5.0" height="5.0" fill="#a4a4a4"/>
<rect x="329.9" y="1019.2" width="5.0" height="5.0" fill="#a4a4a4"/>
<rect x="329.9" y="1039.4" width="5.0" height="5.0" fill="#a4a4a4"/>
<rect x="329.9" y="1059.5" width="5.0" height="5.0" fill="#a4a4a4"/>
<rect x="329.9" y="115.3" width="5.0" height="5.0" fill="#6a6a6a"/>
<rect x="329.9" y="203.4" width="5.0" height="5.0" fill="#6a6a6a"/>
<rect x="329.9" y="290.9" width="5.0" height="5.0" fill="#6a6a6a"/>
<rect x="329.9" y="381.3" width="5.0" height="5.0" fill="#6a6a6a"/>
<rect x="329.9" y="469.2" width="5.0" height="5.0" fill="#6a6a6a"/>
<rect x="329.9" y="590.2" width="5.0" height="5.0" fill="#6a6a6a"/>
<rect x="329.9" y="640.4" width="5.0" height="5.0" fill="#6a6a6a"/>
<rect x="329.9" y="691.1" width="5.0" height="5.0" fill="#6a6a6a"/>
<rect x="329.9" y="741.5" width="5.0" height="5.0" fill="#6a6a6a"/>
<rect x="329.9" y="792.1" width="5.0" height="5.0" fill="#6a6a6a"/>
<rect x="329.9" y="842.0" width="5.0" height="5.0" fill="#6a6a6a"/>
<rect x="329.9" y="892.2" width="5.0" height="5.0" fill="#6a6a6a"/>
<rect x="329.9" y="947.0" width="5.0" height="5.0" fill="#6a6a6a"/>
<rect x="329.9" y="997.3" width="5.0" height="5.0" fill="#6a6a6a"/>
<rect x="329.9" y="1047.5" width="5.0" height="5.0" fill="#6a6a6a"/>
<rect x="531.8" y="31.9" width="5.0" height="5.0" fill="#a4a4a4"/>
<rect x="531.8" y="52.0" width="5.0" height="5.0" fill="#a4a4a4"/>
<rect x="531.8" y="72.2" width="5.0" height="5.0" fill="#a4a4a4"/>
<rect x="531.8" y="92.3" width="5.0" height="5.0" fill="#a4a4a4"/>
<rect x="531.8" y="132.7" width="5.0" height="5.0" fill="#a4a4a4"/>
<rect x="531.8" y="152.8" width="5.0" height="5.0" fill="#a4a4a4"/>
<rect x="531.8" y="173.0" width="5.0" height="5.0" fill="#a4a4a4"/>
<rect x="531.8" y="193.1" width="5.0" height="5.0" fill="#a4a4a4"/>
<rect x="531.8" y="213.3" width="5.0" height="5.0" fill="#a4a4a4"/>
<rect x="531.8" y="233.4" width="5.0" height="5.0" fill="#a4a4a4"/>
<rect x="531.8" y="253.6" width="5.0" height="5.0" fill="#a4a4a4"/>
<rect x="531.8" y="273.7" width="5.0" height="5.0" fill="#a4a4a4"/>
<rect x="531.8" y="314.0" width="5.0" height="5.0" fill="#a4a4a4"/>
<rect x="531.8" y="334.1" width="5.0" height="5.0" fill="#a4a4a4"/>
<rect x="531.8" y="354.3" width="5.0" height="5.0" fill="#a4a4a4"/>
<rect x="531.8" y="374.4" width="5.0" height="5.0" fill="#a4a4a4"/>
<rect x="531.8" y="394.6" width="5.0" height="5.0" fill="#a4a4a4"/>
<rect x="531.8" y="414.7" width="5.0" height="5.0" fill="#a4a4a4"/>
<rect x="531.8" y="434.9" width="5.0" height="5.0" fill="#a4a4a4"/>
<rect x="531.8" y="455.0" width="5.0" height="5.0" fill="#a4a4a4"/>
<rect x="531.8" y="475.2" width="5.0" height="5.0" fill="#a4a4a4"/>
<rect x="531.8" y="495.3" width="5.0" height="5.0" fill="#a4a4a4"/>
<rect x="531.8" y="515.5" width="5.0" height="5.0" fill="#a4a4a4"/>
<rect x="531.8" y="535.6" width="5.0" height="5.0" fill="#a4a4a4"/>
<rect x="531.8" y="575.9" width="5.0" height="5.0" fill="#a4a4a4"/>
<rect x="531.8" y="596.1" width="5.0" height="5.0" fill="#a4a4a4"/>
<rect x="531.8" y="616.2" width="5.0" height="5.0" fill="#a4a4a4"/>
<rect x="531.8" y="656.5" width="5.0" height="5.0" fill="#a4a4a4"/>
<rect x="531.8" y="676.7" width="5.0" height="5.0" fill="#a4a4a4"/>
<rect x="531.8" y="696.8" width="5.0" height="5.0" fill="#a4a4a4"/>
<rect x="531.8" y="717.0" width="5.0" height="5.0" fill="#a4a4a4"/>
<rect x="531.8" y="757.3" width="5.0" height="5.0" fill="#a4a4a4"/>
<rect x="531.8" y="777.4" width="5.0" height="5.0" fill="#a4a4a4"/>
<rect x="531.8" y="797.6" width="5.0" height="5.0" fill="#a4a4a4"/>
<rect x="531.8" y="817.7" width="5.0" height="5.0" fill="#a4a4a4"/>
<rect x="531.8" y="858.0" width="5.0" height="5.0" fill="#a4a4a4"/>
<rect x="531.8" y="878.2" width="5.0" height="5.0" fill="#a4a4a4"/>
<rect x="531.8" y="898.3" width="5.0" height="5.0" fill="#a4a4a4"/>
<rect x="531.8" y="918.5" width="5.0" height="5.0" fill="#a4a4a4"/>
<rect x="531.8" y="938.6" width="5.0" height="5.0" fill="#a4a4a4"/>
<rect x="531.8" y="958.8" width="5.0" height="5.0" fill="#a4a4a4"/>
<rect x="531.8" y="978.9" width="5.0" height="5.0" fill="#a4a4a4"/>
<rect x="531.8" y="1019.2" width="5.0" height="5.0" fill="#a4a4a4"/>
<rect x="531.8" y="1039.4" width="5.0" height="5.0" fill="#a4a4a4"/>
<rect x="531.8" y="1059.5" width="5.0" height="5.0" fill="#a4a4a4"/>
<rect x="531.8" y="115.3" width="5.0" height="5.0" fill="#6a6a6a"/>
<rect x="531.8" y="203.4" width="5.0" height="5.0" fill="#6a6a6a"/>
<rect x="531.8" y="290.9" width="5.0" height="5.0" fill="#6a6a6a"/>
<rect x="531.8" y="381.3" width="5.0" height="5.0" fill="#6a6a6a"/>
<rect x="531.8" y="469.2" width="5.0" height="5.0" fill="#6a6a6a"/>
<rect x="531.8" y="590.2" width="5.0" height="5.0" fill="#6a6a6a"/>
<rect x="531.8" y="640.4" width="5.0" height="5.0" fill="#6a6a6a"/>
<rect x="531.8" y="691.1" width="5.0" height="5.0" fill="#6a6a6a"/>
<rect x="531.8" y="741.5" width="5.0" height="5.0" fill="#6a6a6a"/>
<rect x="531.8" y="792.1" width="5.0" height="5.0" fill="#6a6a6a"/>
<rect x="531.8" y="842.0" width="5.0" height="5.0" fill="#6a6a6a"/>
<rect x="531.8" y="892.2" width="5.0" height="5.0" fill="#6a6a6a"/>
<rect x="531.8" y="947.0" width="5.0" height="5.0" fill="#6a6a6a"/>
<rect x="531.8" y="997.3" width="5.0" height="5.0" fill="#6a6a6a"/>
<rect x="531.8" y="1047.5" width="5.0" height="5.0" fill="#6a6a6a"/>
<rect x="733.7" y="31.9" width="5.0" height="5.0" fill="#a4a4a4"/>
<rect x="733.7" y="52.0" width="5.0" height="5.0" fill="#a4a4a4"/>
<rect x="733.7" y="72.2" width="5.0" height="5.0" fill="#a4a4a4"/>
<rect x="733.7" y="92.3" width="5.0" height="5.0" fill="#a4a4a4"/>
<rect x="733.7" y="132.7" width="5.0" height="5.0" fill="#a4a4a4"/>
<rect x="733.7" y="152.8" width="5.0" height="5.0" fill="#a4a4a4"/>
<rect x="733.7" y="173.0" width="5.0" height="5.0" fill="#a4a4a4"/>
<rect x="733.7" y="193.1" width="5.0" height="5.0" fill="#a4a4a4"/>
<rect x="733.7" y="213.3" width="5.0" height="5.0" fill="#a4a4a4"/>
<rect x="733.7" y="233.4" width="5.0" height="5.0" fill="#a4a4a4"/>
<rect x="733.7" y="253.6" width="5.0" height="5.0" fill="#a4a4a4"/>
<rect x="733.7" y="273.7" width="5.0" height="5.0" fill="#a4a4a4"/>
<rect x="733.7" y="314.0" width="5.0" height="5.0" fill="#a4a4a4"/>
<rect x="733.7" y="334.1" width="5.0" height="5.0" fill="#a4a4a4"/>
<rect x="733.7" y="354.3" width="5.0" height="5.0" fill="#a4a4a4"/>
<rect x="733.7" y="374.4" width="5.0" height="5.0" fill="#a4a4a4"/>
<rect x="733.7" y="394.6" width="5.0" height="5.0" fill="#a4a4a4"/>
<rect x="733.7" y="414.7" width="5.0" height="5.0" fill="#a4a4a4"/>
<rect x="733.7" y="434.9" width="5.0" height="5.0" fill="#a4a4a4"/>
<rect x="733.7" y="455.0" width="5.0" height="5.0" fill="#a4a4a4"/>
<rect x="733.7" y="475.2" width="5.0" height="5.0" fill="#a4a4a4"/>
<rect x="733.7" y="495.3" width="5.0" height="5.0" fill="#a4a4a4"/>
<rect x="733.7" y="515.5" width="5.0" height="5.0" fill="#a4a4a4"/>
<rect x="733.7" y="535.6" width="5.0" height="5.0" fill="#a4a4a4"/>
<rect x="733.7" y="575.9" width="5.0" height="5.0" fill="#a4a4a4"/>
<rect x="733.7" y="596.1" width="5.0" height="5.0" fill="#a4a4a4"/>
<rect x="733.7" y="616.2" width="5.0" height="5.0" fill="#a4a4a4"/>
<rect x="733.7" y="656.5" width="5.0" height="5.0" fill="#a4a4a4"/>
<rect x="733.7" y="676.7" width="5.0" height="5.0" fill="#a4a4a4"/>
<rect x="733.7" y="696.8" width="5.0" height="5.0" fill="#a4a4a4"/>
<rect x="733.7" y="717.0" width="5.0" height="5.0" fill="#a4a4a4"/>
<rect x="733.7" y="757.3" width="5.0" height="5.0" fill="#a4a4a4"/>
<rect x="733.7" y="777.4" width="5.0" height="5.0" fill="#a4a4a4"/>
<rect x="733.7" y="797.6" width="5.0" height="5.0" fill="#a4a4a4"/>
<rect x="733.7" y="817.7" width="5.0" height="5.0" fill="#a4a4a4"/>
<rect x="733.7" y="858.0" width="5.0" height="5.0" fill="#a4a4a4"/>
<rect x="733.7" y="878.2" width="5.0" height="5.0" fill="#a4a4a4"/>
<rect x="733.7" y="898.3" width="5.0" height="5.0" fill="#a4a4a4"/>
<rect x="733.7" y="918.5" width="5.0" height="5.0" fill="#a4a4a4"/>
<rect x="733.7" y="938.6" width="5.0" height="5.0" fill="#a4a4a4"/>
<rect x="733.7" y="958.8" width="5.0" height="5.0" fill="#a4a4a4"/>
<rect x="733.7" y="978.9" width="5.0" height="5.0" fill="#a4a4a4"/>
<rect x="733.7" y="1019.2" width="5.0" height="5.0" fill="#a4a4a4"/>
<rect x="733.7" y="1039.4" width="5.0" height="5.0" fill="#a4a4a4"/>
<rect x="733.7" y="1059.5" width="5.0" height="5.0" fill="#a4a4a4"/>
<rect x="733.7" y="115.3" width="5.0" height="5.0" fill="#6a6a6a"/>
<rect x="733.7" y="203.4" width="5.0" height="5.0" fill="#6a6a6a"/>
<rect x="733.7" y="290.9" width="5.0" height="5.0" fill="#6a6a6a"/>
<rect x="733.7" y="381.3" width="5.0" height="5.0" fill="#6a6a6a"/>
<rect x="733.7" y="469.2" width="5.0" height="5.0" fill="#6a6a6a"/>
<rect x="733.7" y="590.2" width="5.0" height="5.0" fill="#6a6a6a"/>
<rect x="733.7" y="640.4" width="5.0" height="5.0" fill="#6a6a6a"/>
<rect x="733.7" y="691.1" width="5.0" height="5.0" fill="#6a6a6a"/>
<rect x="733.7" y="741.5" width="5.0" height="5.0" fill="#6a6a6a"/>
<rect x="733.7" y="792.1" width="5.0" height="5.0" fill="#6a6a6a"/>
<rect x="733.7" y="842.0" width="5.0" height="5.0" fill="#6a6a6a"/>
<rect x="733.7" y="892.2" width="5.0" height="5.0" fill="#6a6a6a"/>
<rect x="733.7" y="947.0" width="5.0" height="5.0" fill="#6a6a6a"/>
<rect x="733.7" y="997.3" width="5.0" height="5.0" fill="#6a6a6a"/>
<rect x="733.7" y="1047.5" width="5.0" height="5.0" fill="#6a6a6a"/>
<rect x="935.6" y="31.9" width="5.0" height="5.0" fill="#a4a4a4"/>
<rect x="935.6" y="52.0" width="5.0" height="5.0" fill="#a4a4a4"/>
<rect x="935.6" y="72.2" width="5.0" height="5.0" fill="#a4a4a4"/>
<rect x="935.6" y="92.3" width="5.0" height="5.0" fill="#a4a4a4"/>
<rect x="935.6" y="132.7" width="5.0" height="5.0" fill="#a4a4a4"/>
<rect x="935.6" y="152.8" width="5.0" height="5.0" fill="#a4a4a4"/>
<rect x="935.6" y="173.0" width="5.0" height="5.0" fill="#a4a4a4"/>
<rect x="935.6" y="193.1" width="5.0" height="5.0" fill="#a4a4a4"/>
<rect x="935.6" y="213.3" width="5.0" height="5.0" fill="#a4a4a4"/>
<rect x="935.6" y="233.4" width="5.0" height="5.0" fill="#a4a4a4"/>
<rect x="935.6" y="253.6" width="5.0" height="5.0" fill="#a4a4a4"/>
<rect x="935.6" y="273.7" width="5.0" height="5.0" fill="#a4a4a4"/>
<rect x="935.6" y="314.0" width="5.0" height="5.0" fill="#a4a4a4"/>
<rect x="935.6" y="334.1" width="5.0" height="5.0" fill="#a4a4a4"/>
<rect x="935.6" y="354.3" width="5.0" height="5.0" fill="#a4a4a4"/>
<rect x="935.6" y="374.4" width="5.0" height="5.0" fill="#a4a4a4"/>
<rect x="935.6" y="394.6" width="5.0" height="5.0" fill="#a4a4a4"/>
<rect x="935.6" y="414.7" width="5.0" height="5.0" fill="#a4a4a4"/>
<rect x="935.6" y="434.9" width="5.0" height="5.0" fill="#a4a4a4"/>
<rect x="935.6" y="455.0" width="5.0" height="5.0" fill="#a4a4a4"/>
<rect x="935.6" y="475.2" width="5.0" height="5.0" fill="#a4a4a4"/>
<rect x="935.6" y="495.3" width="5.0" height="5.0" fill="#a4a4a4"/>
<rect x="935.6" y="515.5" width="5.0" height="5.0" fill="#a4a4a4"/>
<rect x="935.6" y="535.6" width="5.0" height="5.0" fill="#a4a4a4"/>
<rect x="935.6" y="575.9" width="5.0" height="5.0" fill="#a4a4a4"/>
<rect x="935.6" y="596.1" width="5.0" height="5.0" fill="#a4a4a4"/>
<rect x="935.6" y="616.2" width="5.0" height="5.0" fill="#a4a4a4"/>
<rect x="935.6" y="656.5" width="5.0" height="5.0" fill="#a4a4a4"/>
<rect x="935.6" y="676.7" width="5.0" height="5.0" fill="#a4a4a4"/>
<rect x="935.6" y="696.8" width="5.0" height="5.0" fill="#a4a4a4"/>
<rect x="935.6" y="717.0" width="5.0" height="5.0" fill="#a4a4a4"/>
<rect x="935.6" y="757.3" width="5.0" height="5.0" fill="#a4a4a4"/>
<rect x="935.6" y="777.4" width="5.0" height="5.0" fill="#a4a4a4"/>
<rect x="935.6" y="797.6" width="5.0" height="5.0" fill="#a4a4a4"/>
<rect x="935.6" y="817.7" width="5.0" height="5.0" fill="#a4a4a4"/>
<rect x="935.6" y="858.0" width="5.0" height="5.0" fill="#a4a4a4"/>
<rect x="935.6" y="878.2" width="5.0" height="5.0" fill="#a4a4a4"/>
<rect x="935.6" y="898.3" width="5.0" height="5.0" fill="#a4a4a4"/>
<rect x="935.6" y="918.5" width="5.0" height="5.0" fill="#a4a4a4"/>
<rect x="935.6" y="938.6" width="5.0" height="5.0" fill="#a4a4a4"/>
<rect x="935.6" y="958.8" width="5.0" height="5.0" fill="#a4a4a4"/>
<rect x="935.6" y="978.9" width="5.0" height="5.0" fill="#a4a4a4"/>
<rect x="935.6" y="1019.2" width="5.0" height="5.0" fill="#a4a4a4"/>
<rect x="935.6" y="1039.4" width="5.0" height="5.0" fill="#a4a4a4"/>
<rect x="935.6" y="1059.5" width="5.0" height="5.0" fill="#a4a4a4"/>
<rect x="935.6" y="115.3" width="5.0" height="5.0" fill="#6a6a6a"/>
<rect x="935.6" y="203.4" width="5.0" height="5.0" fill="#6a6a6a"/>
<rect x="935.6" y="290.9" width="5.0" height="5.0" fill="#6a6a6a"/>
<rect x="935.6" y="381.3" width="5.0" height="5.0" fill="#6a6a6a"/>
<rect x="935.6" y="469.2" width="5.0" height="5.0" fill="#6a6a6a"/>
<rect x="935.6" y="590.2" width="5.0" height="5.0" fill="#6a6a6a"/>
<rect x="935.6" y="640.4" width="5.0" height="5.0" fill="#6a6a6a"/>
<rect x="935.6" y="691.1" width="5.0" height="5.0" fill="#6a6a6a"/>
<rect x="935.6" y="741.5" width="5.0" height="5.0" fill="#6a6a6a"/>
<rect x="935.6" y="792.1" width="5.0" height="5.0" fill="#6a6a6a"/>
<rect x="935.6" y="842.0" width="5.0" height="5.0" fill="#6a6a6a"/>
<rect x="935.6" y="892.2" width="5.0" height="5.0" fill="#6a6a6a"/>
<rect x="935.6" y="947.0" width="5.0" height="5.0" fill="#6a6a6a"/>
<rect x="935.6" y="997.3" width="5.0" height="5.0" fill="#6a6a6a"/>
<rect x="935.6" y="1047.5" width="5.0" height="5.0" fill="#6a6a6a"/>
<rect x="1137.5" y="31.9" width="5.0" height="5.0" fill="#a4a4a4"/>
<rect x="1137.5" y="52.0" width="5.0" height="5.0" fill="#a4a4a4"/>
<rect x="1137.5" y="72.2" width="5.0" height="5.0" fill="#a4a4a4"/>
<rect x="1137.5" y="92.3" width="5.0" height="5.0" fill="#a4a4a4"/>
<rect x="1137.5" y="132.7" width="5.0" height="5.0" fill="#a4a4a4"/>
<rect x="1137.5" y="152.8" width="5.0" height="5.0" fill="#a4a4a4"/>
<rect x="1137.5" y="173.0" width="5.0" height="5.0" fill="#a4a4a4"/>
<rect x="1137.5" y="193.1" width="5.0" height="5.0" fill="#a4a4a4"/>
<rect x="1137.5" y="213.3" width="5.0" height="5.0" fill="#a4a4a4"/>
<rect x="1137.5" y="233.4" width="5.0" height="5.0" fill="#a4a4a4"/>
<rect x="1137.5" y="253.6" width="5.0" height="5.0" fill="#a4a4a4"/>
<rect x="1137.5" y="273.7" width="5.0" height="5.0" fill="#a4a4a4"/>
<rect x="1137.5" y="314.0" width="5.0" height="5.0" fill="#a4a4a4"/>
<rect x="1137.5" y="334.1" width="5.0" height="5.0" fill="#a4a4a4"/>
<rect x="1137.5" y="354.3" width="5.0" height="5.0" fill="#a4a4a4"/>
<rect x="1137.5" y="374.4" width="5.0" height="5.0" fill="#a4a4a4"/>
<rect x="1137.5" y="394.6" width="5.0" height="5.0" fill="#a4a4a4"/>
<rect x="1137.5" y="414.7" width="5.0" height="5.0" fill="#a4a4a4"/>
<rect x="1137.5" y="434.9" width="5.0" height="5.0" fill="#a4a4a4"/>
<rect x="1137.5" y="455.0" width="5.0" height="5.0" fill="#a4a4a4"/>
<rect x="1137.5" y="475.2" width="5.0" height="5.0" fill="#a4a4a4"/>
<rect x="1137.5" y="495.3" width="5.0" height="5.0" fill="#a4a4a4"/>
<rect x="1137.5" y="515.5" width="5.0" height="5.0" fill="#a4a4a4"/>
<rect x="1137.5" y="535.6" width="5.0" height="5.0" fill="#a4a4a4"/>
<rect x="1137.5" y="575.9" width="5.0" height="5.0" fill="#a4a4a4"/>
<rect x="1137.5" y="596.1" width="5.0" height="5.0" fill="#a4a4a4"/>
<rect x="1137.5" y="616.2" width="5.0" height="5.0" fill="#a4a4a4"/>
<rect x="1137.5" y="656.5" width="5.0" height="5.0" fill="#a4a4a4"/>
<rect x="1137.5" y="676.7" width="5.0" height="5.0" fill="#a4a4a4"/>
<rect x="1137.5" y="696.8" width="5.0" height="5.0" fill="#a4a4a4"/>
<rect x="1137.5" y="717.0" width="5.0" height="5.0" fill="#a4a4a4"/>
<rect x="1137.5" y="757.3" width="5.0" height="5.0" fill="#a4a4a4"/>
<rect x="1137.5" y="777.4" width="5.0" height="5.0" fill="#a4a4a4"/>
<rect x="1137.5" y="797.6" width="5.0" height="5.0" fill="#a4a4a4"/>
<rect x="1137.5" y="817.7" width="5.0" height="5.0" fill="#a4a4a4"/>
<rect x="1137.5" y="858.0" width="5.0" height="5.0" fill="#a4a4a4"/>
<rect x="1137.5" y="878.2" width="5.0" height="5.0" fill="#a4a4a4"/>
<rect x="1137.5" y="898.3" width="5.0" height="5.0" fill="#a4a4a4"/>
<rect x="1137.5" y="918.5" width="5.0" height="5.0" fill="#a4a4a4"/>
<rect x="1137.5" y="938.6" width="5.0" height="5.0" fill="#a4a4a4"/>
<rect x="1137.5" y="958.8" width="5.0" height="5.0" fill="#a4a4a4"/>
<rect x="1137.5" y="978.9" width="5.0" height="5.0" fill="#a4a4a4"/>
<rect x="1137.5" y="1019.2" width="5.0" height="5.0" fill="#a4a4a4"/>
<rect x="1137.5" y="1039.4" width="5.0" height="5.0" fill="#a4a4a4"/>
<rect x="1137.5" y="1059.5" width="5.0" height="5.0" fill="#a4a4a4"/>
<rect x="1137.5" y="115.3" width="5.0" height="5.0" fill="#6a6a6a"/>
<rect x="1137.5" y="203.4" width="5.0" height="5.0" fill="#6a6a6a"/>
<rect x="1137.5" y="290.9" width="5.0" height="5.0" fill="#6a6a6a"/>
<rect x="1137.5" y="381.3" width="5.0" height="5.0" fill="#6a6a6a"/>
<rect x="1137.5" y="469.2" width="5.0" height="5.0" fill="#6a6a6a"/>
<rect x="1137.5" y="590.2" width="5.0" height="5.0" fill="#6a6a6a"/>
<rect x="1137.5" y="640.4" width="5.0" height="5.0" fill="#6a6a6a"/>
<rect x="1137.5" y="691.1" width="5.0" height="5.0" fill="#6a6a6a"/>
<rect x="1137.5" y="741.5" width="5.0" height="5.0" fill="#6a6a6a"/>
<rect x="1137.5" y="792.1" width="5.0" height="5.0" fill="#6a6a6a"/>
<rect x="1137.5" y="842.0" width="5.0" height="5.0" fill="#6a6a6a"/>
<rect x="1137.5" y="892.2" width="5.0" height="5.0" fill="#6a6a6a"/>
<rect x="1137.5" y="947.0" width="5.0" height="5.0" fill="#6a6a6a"/>
<rect x="1137.5" y="997.3" width="5.0" height="5.0" fill="#6a6a6a"/>
<rect x="1137.5" y="1047.5" width="5.0" height="5.0" fill="#6a6a6a"/>
<rect x="1339.4" y="31.9" width="5.0" height="5.0" fill="#a4a4a4"/>
<rect x="1339.4" y="52.0" width="5.0" height="5.0" fill="#a4a4a4"/>
<rect x="1339.4" y="72.2" width="5.0" height="5.0" fill="#a4a4a4"/>
<rect x="1339.4" y="92.3" width="5.0" height="5.0" fill="#a4a4a4"/>
<rect x="1339.4" y="132.7" width="5.0" height="5.0" fill="#a4a4a4"/>
<rect x="1339.4" y="152.8" width="5.0" height="5.0" fill="#a4a4a4"/>
<rect x="1339.4" y="173.0" width="5.0" height="5.0" fill="#a4a4a4"/>
<rect x="1339.4" y="193.1" width="5.0" height="5.0" fill="#a4a4a4"/>
<rect x="1339.4" y="213.3" width="5.0" height="5.0" fill="#a4a4a4"/>
<rect x="1339.4" y="233.4" width="5.0" height="5.0" fill="#a4a4a4"/>
<rect x="1339.4" y="253.6" width="5.0" height="5.0" fill="#a4a4a4"/>
<rect x="1339.4" y="273.7" width="5.0" height="5.0" fill="#a4a4a4"/>
<rect x="1339.4" y="314.0" width="5.0" height="5.0" fill="#a4a4a4"/>
<rect x="1339.4" y="334.1" width="5.0" height="5.0" fill="#a4a4a4"/>
<rect x="1339.4" y="354.3" width="5.0" height="5.0" fill="#a4a4a4"/>
<rect x="1339.4" y="374.4" width="5.0" height="5.0" fill="#a4a4a4"/>
<rect x="1339.4" y="394.6" width="5.0" height="5.0" fill="#a4a4a4"/>
<rect x="1339.4" y="414.7" width="5.0" height="5.0" fill="#a4a4a4"/>
<rect x="1339.4" y="434.9" width="5.0" height="5.0" fill="#a4a4a4"/>
<rect x="1339.4" y="455.0" width="5.0" height="5.0" fill="#a4a4a4"/>
<rect x="1339.4" y="475.2" width="5.0" height="5.0" fill="#a4a4a4"/>
<rect x="1339.4" y="495.3" width="5.0" height="5.0" fill="#a4a4a4"/>
<rect x="1339.4" y="515.5" width="5.0" height="5.0" fill="#a4a4a4"/>
<rect x="1339.4" y="535.6" width="5.0" height="5.0" fill="#a4a4a4"/>
<rect x="1339.4" y="575.9" width="5.0" height="5.0" fill="#a4a4a4"/>
<rect x="1339.4" y="596.1" width="5.0" height="5.0" fill="#a4a4a4"/>
<rect x="1339.4" y="616.2" width="5.0" height="5.0" fill="#a4a4a4"/>
<rect x="1339.4" y="656.5" width="5.0" height="5.0" fill="#a4a4a4"/>
<rect x="1339.4" y="676.7" width="5.0" height="5.0" fill="#a4a4a4"/>
<rect x="1339.4" y="696.8" width="5.0" height="5.0" fill="#a4a4a4"/>
<rect x="1339.4" y="717.0" width="5.0" height="5.0" fill="#a4a4a4"/>
<rect x="1339.4" y="757.3" width="5.0" height="5.0" fill="#a4a4a4"/>
<rect x="1339.4" y="777.4" width="5.0" height="5.0" fill="#a4a4a4"/>
<rect x="1339.4" y="797.6" width="5.0" height="5.0" fill="#a4a4a4"/>
<rect x="1339.4" y="817.7" width="5.0" height="5.0" fill="#a4a4a4"/>
<rect x="1339.4" y="858.0" width="5.0" height="5.0" fill="#a4a4a4"/>
<rect x="1339.4" y="878.2" width="5.0" height="5.0" fill="#a4a4a4"/>
<rect x="1339.4" y="898.3" width="5.0" height="5.0" fill="#a4a4a4"/>
<rect x="1339.4" y="918.5" width="5.0" height="5.0" fill="#a4a4a4"/>
<rect x="1339.4" y="938.6" width="5.0" height="5.0" fill="#a4a4a4"/>
<rect x="1339.4" y="958.8" width="5.0" height="5.0" fill="#a4a4a4"/>
<rect x="1339.4" y="978.9" width="5.0" height="5.0" fill="#a4a4a4"/>
<rect x="1339.4" y="1019.2" width="5.0" height="5.0" fill="#a4a4a4"/>
<rect x="1339.4" y="1039.4" width="5.0" height="5.0" fill="#a4a4a4"/>
<rect x="1339.4" y="1059.5" width="5.0" height="5.0" fill="#a4a4a4"/>
<rect x="1339.4" y="115.3" width="5.0" height="5.0" fill="#6a6a6a"/>
<rect x="1339.4" y="203.4" width="5.0" height="5.0" fill="#6a6a6a"/>
<rect x="1339.4" y="290.9" width="5.0" height="5.0" fill="#6a6a6a"/>
<rect x="1339.4" y="381.3" width="5.0" height="5.0" fill="#6a6a6a"/>
<rect x="1339.4" y="469.2" width="5.0" height="5.0" fill="#6a6a6a"/>
<rect x="1339.4" y="590.2" width="5.0" height="5.0" fill="#6a6a6a"/>
<rect x="1339.4" y="640.4" width="5.0" height="5.0" fill="#6a6a6a"/>
<rect x="1339.4" y="691.1" width="5.0" height="5.0" fill="#6a6a6a"/>
<rect x="1339.4" y="741.5" width="5.0" height="5.0" fill="#6a6a6a"/>
<rect x="1339.4" y="792.1" width="5.0" height="5.0" fill="#6a6a6a"/>
<rect x="1339.4" y="842.0" width="5.0" height="5.0" fill="#6a6a6a"/>
<rect x="1339.4" y="892.2" width="5.0" height="5.0" fill="#6a6a6a"/>
<rect x="1339.4" y="947.0" width="5.0" height="5.0" fill="#6a6a6a"/>
<rect x="1339.4" y="997.3" width="5.0" height="5.0" fill="#6a6a6a"/>
<rect x="1339.4" y="1047.5" width="5.0" height="5.0" fill="#6a6a6a"/>
<rect x="127.8" y="25" width="5.2" height="1056" fill="#747474"/>
<rect x="29" y="553.2" width="1318" height="4.4" fill="#808080"/>
<rect x="29" y="551.6" width="1318" height="7.6" fill="#a0a0a0" opacity="0.5"/>
<rect x="29" y="1078" width="1318" height="4" fill="#707070"/>
<rect x="29" y="1144" width="1334" height="2" fill="#ececec"/>
<rect x="44.5" y="550.2" width="9.5" height="4" fill="#333"/>
<rect x="44.5" y="1075" width="9.5" height="4" fill="#333"/>
<rect x="118.5" y="62.5" width="11.5" height="5.2" fill="#747474"/>
<rect x="118.5" y="79.2" width="11.5" height="5.2" fill="#747474"/>
<rect x="118.5" y="95.6" width="11.5" height="5.2" fill="#747474"/>
<rect x="112.0" y="115.7" width="18.0" height="5.2" fill="#747474"/>
<rect x="118.5" y="132.2" width="11.5" height="5.2" fill="#747474"/>
<rect x="118.5" y="149.2" width="11.5" height="5.2" fill="#747474"/>
<rect x="118.5" y="165.9" width="11.5" height="5.2" fill="#747474"/>
<rect x="118.5" y="186.4" width="11.5" height="5.2" fill="#747474"/>
<rect x="112.0" y="203.3" width="18.0" height="5.2" fill="#747474"/>
<rect x="118.5" y="220.1" width="11.5" height="5.2" fill="#747474"/>
<rect x="118.5" y="240.2" width="11.5" height="5.2" fill="#747474"/>
<rect x="118.5" y="257.3" width="11.5" height="5.2" fill="#747474"/>
<rect x="118.5" y="273.9" width="11.5" height="5.2" fill="#747474"/>
<rect x="112.0" y="290.8" width="18.0" height="5.2" fill="#747474"/>
<rect x="118.5" y="311.1" width="11.5" height="5.2" fill="#747474"/>
<rect x="118.5" y="327.6" width="11.5" height="5.2" fill="#747474"/>
<rect x="118.5" y="344.6" width="11.5" height="5.2" fill="#747474"/>
<rect x="118.5" y="364.7" width="11.5" height="5.2" fill="#747474"/>
<rect x="112.0" y="381.2" width="18.0" height="5.2" fill="#747474"/>
<rect x="118.5" y="398.2" width="11.5" height="5.2" fill="#747474"/>
<rect x="118.5" y="418.9" width="11.5" height="5.2" fill="#747474"/>
<rect x="118.5" y="435.6" width="11.5" height="5.2" fill="#747474"/>
<rect x="118.5" y="452.4" width="11.5" height="5.2" fill="#747474"/>
<rect x="112.0" y="469.1" width="18.0" height="5.2" fill="#747474"/>
<rect x="118.5" y="488.2" width="11.5" height="5.2" fill="#747474"/>
<rect x="118.5" y="506.3" width="11.5" height="5.2" fill="#747474"/>
<rect x="118.5" y="522.3" width="11.5" height="5.2" fill="#747474"/>
<rect x="111.8" y="590.6" width="18.2" height="4.2" fill="#707070"/>
<rect x="118.0" y="600.6" width="12.0" height="4.2" fill="#707070"/>
<rect x="118.0" y="610.7" width="12.0" height="4.2" fill="#707070"/>
<rect x="118.0" y="620.7" width="12.0" height="4.2" fill="#707070"/>
<rect x="118.0" y="630.8" width="12.0" height="4.2" fill="#707070"/>
<rect x="111.8" y="640.8" width="18.2" height="4.2" fill="#707070"/>
<rect x="118.0" y="650.9" width="12.0" height="4.2" fill="#707070"/>
<rect x="118.0" y="661.1" width="12.0" height="4.2" fill="#707070"/>
<rect x="118.0" y="671.2" width="12.0" height="4.2" fill="#707070"/>
<rect x="118.0" y="681.4" width="12.0" height="4.2" fill="#707070"/>
<rect x="111.8" y="691.5" width="18.2" height="4.2" fill="#707070"/>
<rect x="118.0" y="701.6" width="12.0" height="4.2" fill="#707070"/>
<rect x="118.0" y="711.7" width="12.0" height="4.2" fill="#707070"/>
<rect x="118.0" y="721.7" width="12.0" height="4.2" fill="#707070"/>
<rect x="118.0" y="731.8" width="12.0" height="4.2" fill="#707070"/>
<rect x="111.8" y="741.9" width="18.2" height="4.2" fill="#707070"/>
<rect x="118.0" y="752.0" width="12.0" height="4.2" fill="#707070"/>
<rect x="118.0" y="762.1" width="12.0" height="4.2" fill="#707070"/>
<rect x="118.0" y="772.3" width="12.0" height="4.2" fill="#707070"/>
<rect x="118.0" y="782.4" width="12.0" height="4.2" fill="#707070"/>
<rect x="111.8" y="792.5" width="18.2" height="4.2" fill="#707070"/>
<rect x="118.0" y="802.5" width="12.0" height="4.2" fill="#707070"/>
<rect x="118.0" y="812.5" width="12.0" height="4.2" fill="#707070"/>
<rect x="118.0" y="822.4" width="12.0" height="4.2" fill="#707070"/>
<rect x="118.0" y="832.4" width="12.0" height="4.2" fill="#707070"/>
<rect x="111.8" y="842.4" width="18.2" height="4.2" fill="#707070"/>
<rect x="118.0" y="852.4" width="12.0" height="4.2" fill="#707070"/>
<rect x="118.0" y="862.5" width="12.0" height="4.2" fill="#707070"/>
<rect x="118.0" y="872.5" width="12.0" height="4.2" fill="#707070"/>
<rect x="118.0" y="882.6" width="12.0" height="4.2" fill="#707070"/>
<rect x="111.8" y="892.6" width="18.2" height="4.2" fill="#707070"/>
<rect x="118.0" y="903.6" width="12.0" height="4.2" fill="#707070"/>
<rect x="118.0" y="914.5" width="12.0" height="4.2" fill="#707070"/>
<rect x="118.0" y="925.5" width="12.0" height="4.2" fill="#707070"/>
<rect x="118.0" y="936.4" width="12.0" height="4.2" fill="#707070"/>
<rect x="111.8" y="947.4" width="18.2" height="4.2" fill="#707070"/>
<rect x="118.0" y="957.5" width="12.0" height="4.2" fill="#707070"/>
<rect x="118.0" y="967.5" width="12.0" height="4.2" fill="#707070"/>
<rect x="118.0" y="977.6" width="12.0" height="4.2" fill="#707070"/>
<rect x="118.0" y="987.6" width="12.0" height="4.2" fill="#707070"/>
<rect x="111.8" y="997.7" width="18.2" height="4.2" fill="#707070"/>
<rect x="118.0" y="1007.7" width="12.0" height="4.2" fill="#707070"/>
<rect x="118.0" y="1017.8" width="12.0" height="4.2" fill="#707070"/>
<rect x="118.0" y="1027.8" width="12.0" height="4.2" fill="#707070"/>
<rect x="118.0" y="1037.9" width="12.0" height="4.2" fill="#707070"/>
<rect x="111.8" y="1047.9" width="18.2" height="4.2" fill="#707070"/>
<rect x="118.0" y="580.5" width="12.0" height="4.2" fill="#707070"/>
<rect x="118.0" y="570.4" width="12.0" height="4.2" fill="#707070"/>
<rect x="118.0" y="1058.0" width="12.0" height="4.2" fill="#707070"/>
<rect x="129.8" y="1080" width="3.8" height="21.5" fill="#3c3c3c"/>
<rect x="169.0" y="1080" width="3.8" height="15.0" fill="#3c3c3c"/>
<rect x="209.4" y="1080" width="3.8" height="15.0" fill="#3c3c3c"/>
<rect x="249.7" y="1080" width="3.8" height="15.0" fill="#3c3c3c"/>
<rect x="290.1" y="1080" width="3.8" height="15.0" fill="#3c3c3c"/>
<rect x="330.5" y="1080" width="3.8" height="21.5" fill="#3c3c3c"/>
<rect x="370.9" y="1080" width="3.8" height="15.0" fill="#3c3c3c"/>
<rect x="411.3" y="1080" width="3.8" height="15.0" fill="#3c3c3c"/>
<rect x="451.6" y="1080" width="3.8" height="15.0" fill="#3c3c3c"/>
<rect x="492.0" y="1080" width="3.8" height="15.0" fill="#3c3c3c"/>
<rect x="532.4" y="1080" width="3.8" height="21.5" fill="#3c3c3c"/>
<rect x="572.8" y="1080" width="3.8" height="15.0" fill="#3c3c3c"/>
<rect x="613.2" y="1080" width="3.8" height="15.0" fill="#3c3c3c"/>
<rect x="653.5" y="1080" width="3.8" height="15.0" fill="#3c3c3c"/>
<rect x="693.9" y="1080" width="3.8" height="15.0" fill="#3c3c3c"/>
<rect x="734.3" y="1080" width="3.8" height="21.5" fill="#3c3c3c"/>
<rect x="774.7" y="1080" width="3.8" height="15.0" fill="#3c3c3c"/>
<rect x="815.1" y="1080" width="3.8" height="15.0" fill="#3c3c3c"/>
<rect x="855.4" y="1080" width="3.8" height="15.0" fill="#3c3c3c"/>
<rect x="895.8" y="1080" width="3.8" height="15.0" fill="#3c3c3c"/>
<rect x="936.2" y="1080" width="3.8" height="21.5" fill="#3c3c3c"/>
<rect x="976.6" y="1080" width="3.8" height="15.0" fill="#3c3c3c"/>
<rect x="1017.0" y="1080" width="3.8" height="15.0" fill="#3c3c3c"/>
<rect x="1057.3" y="1080" width="3.8" height="15.0" fill="#3c3c3c"/>
<rect x="1097.7" y="1080" width="3.8" height="15.0" fill="#3c3c3c"/>
<rect x="1138.1" y="1080" width="3.8" height="21.5" fill="#3c3c3c"/>
<rect x="1178.5" y="1080" width="3.8" height="15.0" fill="#3c3c3c"/>
<rect x="1218.9" y="1080" width="3.8" height="15.0" fill="#3c3c3c"/>
<rect x="1259.2" y="1080" width="3.8" height="15.0" fill="#3c3c3c"/>
<rect x="1299.6" y="1080" width="3.8" height="15.0" fill="#3c3c3c"/>
<rect x="1340.0" y="1080" width="3.8" height="21.5" fill="#3c3c3c"/>
<text transform="translate(113.5,136.1) scale(1.13,1)" text-anchor="end" font-size="40" fill="#3a3a3a" font-weight="normal" stroke="#3a3a3a" stroke-width="1.4" stroke-linejoin="round" >10m</text>
<text transform="translate(113.5,223.7) scale(1.13,1)" text-anchor="end" font-size="40" fill="#3a3a3a" font-weight="normal" stroke="#3a3a3a" stroke-width="1.4" stroke-linejoin="round" >5m</text>
<text transform="translate(113.5,311.2) scale(1.13,1)" text-anchor="end" font-size="40" fill="#3a3a3a" font-weight="normal" stroke="#3a3a3a" stroke-width="1.4" stroke-linejoin="round" >0</text>
<text transform="translate(113.5,401.6) scale(1.13,1)" text-anchor="end" font-size="40" fill="#3a3a3a" font-weight="normal" stroke="#3a3a3a" stroke-width="1.4" stroke-linejoin="round" >-5m</text>
<text transform="translate(132.0,489.5) scale(1.13,1)" text-anchor="end" font-size="40" fill="#3a3a3a" font-weight="normal" stroke="#3a3a3a" stroke-width="1.4" stroke-linejoin="round" >-10m</text>
<text transform="translate(113.5,610.0) scale(1.08,1)" text-anchor="end" font-size="40" fill="#3a3a3a" font-weight="normal" stroke="#3a3a3a" stroke-width="1.4" stroke-linejoin="round" >1.8</text>
<text transform="translate(113.5,660.2) scale(1.08,1)" text-anchor="end" font-size="40" fill="#3a3a3a" font-weight="normal" stroke="#3a3a3a" stroke-width="1.4" stroke-linejoin="round" >1.6</text>
<text transform="translate(113.5,710.9) scale(1.08,1)" text-anchor="end" font-size="40" fill="#3a3a3a" font-weight="normal" stroke="#3a3a3a" stroke-width="1.4" stroke-linejoin="round" >1.4</text>
<text transform="translate(113.5,761.3) scale(1.08,1)" text-anchor="end" font-size="40" fill="#3a3a3a" font-weight="normal" stroke="#3a3a3a" stroke-width="1.4" stroke-linejoin="round" >1.2</text>
<text transform="translate(113.5,811.9) scale(1.08,1)" text-anchor="end" font-size="40" fill="#3a3a3a" font-weight="normal" stroke="#3a3a3a" stroke-width="1.4" stroke-linejoin="round" >1</text>
<text transform="translate(113.5,861.8) scale(1.08,1)" text-anchor="end" font-size="40" fill="#3a3a3a" font-weight="normal" stroke="#3a3a3a" stroke-width="1.4" stroke-linejoin="round" >0.8</text>
<text transform="translate(113.5,912.0) scale(1.08,1)" text-anchor="end" font-size="40" fill="#3a3a3a" font-weight="normal" stroke="#3a3a3a" stroke-width="1.4" stroke-linejoin="round" >0.6</text>
<text transform="translate(113.5,966.3) scale(1.08,1)" text-anchor="end" font-size="40" fill="#3a3a3a" font-weight="normal" stroke="#3a3a3a" stroke-width="1.4" stroke-linejoin="round" >0.4</text>
<text transform="translate(113.5,1017.1) scale(1.08,1)" text-anchor="end" font-size="40" fill="#3a3a3a" font-weight="normal" stroke="#3a3a3a" stroke-width="1.4" stroke-linejoin="round" >0.2</text>
<text transform="translate(113.5,1067.3) scale(1.08,1)" text-anchor="end" font-size="40" fill="#3a3a3a" font-weight="normal" stroke="#3a3a3a" stroke-width="1.4" stroke-linejoin="round" >0</text>
<text transform="translate(132.0,73.0) scale(1.1,1)" text-anchor="start" font-size="40" fill="#4a4a4a" font-weight="normal" stroke="#4a4a4a" stroke-width="1.4" stroke-linejoin="round" >(lin)</text>
<text transform="translate(132.5,596.5) scale(1.1,1)" text-anchor="start" font-size="40" fill="#4a4a4a" font-weight="normal" stroke="#4a4a4a" stroke-width="1.4" stroke-linejoin="round" >(lin)</text>
<text transform="translate(139.5,1138.3) scale(1.08,1)" text-anchor="middle" font-size="40" fill="#3a3a3a" font-weight="normal" stroke="#3a3a3a" stroke-width="1.4" stroke-linejoin="round" >0</text>
<text transform="translate(331.4,1138.3) scale(1.08,1)" text-anchor="middle" font-size="40" fill="#3a3a3a" font-weight="normal" stroke="#3a3a3a" stroke-width="1.4" stroke-linejoin="round" >1u</text>
<text transform="translate(533.3,1138.3) scale(1.08,1)" text-anchor="middle" font-size="40" fill="#3a3a3a" font-weight="normal" stroke="#3a3a3a" stroke-width="1.4" stroke-linejoin="round" >2u</text>
<text transform="translate(735.2,1138.3) scale(1.08,1)" text-anchor="middle" font-size="40" fill="#3a3a3a" font-weight="normal" stroke="#3a3a3a" stroke-width="1.4" stroke-linejoin="round" >3u</text>
<text transform="translate(937.1,1138.3) scale(1.08,1)" text-anchor="middle" font-size="40" fill="#3a3a3a" font-weight="normal" stroke="#3a3a3a" stroke-width="1.4" stroke-linejoin="round" >4u</text>
<text transform="translate(1139.0,1138.3) scale(1.08,1)" text-anchor="middle" font-size="40" fill="#3a3a3a" font-weight="normal" stroke="#3a3a3a" stroke-width="1.4" stroke-linejoin="round" >5u</text>
<g clip-path="url(#clip6)"><text transform="translate(1341.4,1138.3) scale(1.08,1)" text-anchor="middle" font-size="40" fill="#3a3a3a" font-weight="normal" stroke="#3a3a3a" stroke-width="1.4" stroke-linejoin="round" >6u</text></g>
<polyline points="131.5,543 738.5,45.5 1344,543" fill="none" stroke="#626262" stroke-width="4.5" stroke-linejoin="miter"/>
<rect x="131" y="1045.2" width="282" height="9.6" fill="#606060"/>
<rect x="1060" y="1045.2" width="284" height="9.6" rx="3" fill="#606060"/>
<rect x="546" y="571.2" width="386" height="39.3" fill="#6b6b6b"/>
<rect x="546" y="605" width="386" height="5.5" fill="#626262"/>
<rect x="410" y="1050" width="124" height="14" fill="#b4b4b4"/>
<rect x="408.0" y="610.5" width="4.4" height="457.0" fill="#555555"/>
<rect x="412.1" y="610.5" width="3.1" height="445.5" fill="#b0b0b0"/>
<rect x="414.9" y="610.5" width="2.6" height="445.5" fill="#d4d4d4"/>
<rect x="417.2" y="610.5" width="2.6" height="445.5" fill="#e0e0e0"/>
<rect x="419.5" y="610.5" width="2.6" height="445.5" fill="#d4d4d4"/>
<rect x="421.8" y="610.5" width="6.1" height="445.5" fill="#bcbcbc"/>
<rect x="427.6" y="610.5" width="5.4" height="457.0" fill="#484848"/>
<rect x="432.7" y="610.5" width="2.1" height="445.5" fill="#aaaaaa"/>
<rect x="434.5" y="610.5" width="3.7" height="445.5" fill="#d0d0d0"/>
<rect x="437.9" y="610.5" width="2.0" height="445.5" fill="#999999"/>
<rect x="439.6" y="610.5" width="4.3" height="457.0" fill="#555555"/>
<rect x="443.6" y="610.5" width="4.9" height="445.5" fill="#a0a0a0"/>
<rect x="448.2" y="610.5" width="3.8" height="457.0" fill="#606060"/>
<rect x="451.7" y="610.5" width="2.6" height="445.5" fill="#bbbbbb"/>
<rect x="454.0" y="610.5" width="4.9" height="445.5" fill="#d4d4d4"/>
<rect x="458.6" y="610.5" width="3.7" height="445.5" fill="#bebebe"/>
<rect x="462.0" y="610.5" width="4.9" height="445.5" fill="#e4e4e4"/>
<rect x="466.6" y="610.5" width="2.6" height="445.5" fill="#999999"/>
<rect x="468.9" y="610.5" width="4.9" height="457.0" fill="#3c3c3c"/>
<rect x="473.5" y="610.5" width="4.9" height="445.5" fill="#b8b8b8"/>
<rect x="478.1" y="610.5" width="2.6" height="445.5" fill="#888888"/>
<rect x="480.4" y="610.5" width="3.8" height="457.0" fill="#4a4a4a"/>
<rect x="483.9" y="610.5" width="4.8" height="445.5" fill="#a4a4a4"/>
<rect x="488.4" y="610.5" width="7.2" height="445.5" fill="#8a8a8a"/>
<rect x="495.3" y="610.5" width="2.6" height="445.5" fill="#c8c8c8"/>
<rect x="497.6" y="610.5" width="4.9" height="445.5" fill="#f0f0f0"/>
<rect x="502.2" y="610.5" width="2.1" height="445.5" fill="#cccccc"/>
<rect x="504.0" y="610.5" width="4.3" height="445.5" fill="#989898"/>
<rect x="508.0" y="610.5" width="3.1" height="445.5" fill="#c0c0c0"/>
<rect x="510.8" y="610.5" width="2.6" height="445.5" fill="#909090"/>
<rect x="513.1" y="610.5" width="7.2" height="457.0" fill="#3e3e3e"/>
<rect x="520.0" y="610.5" width="2.1" height="445.5" fill="#909090"/>
<rect x="521.8" y="610.5" width="4.8" height="445.5" fill="#c0c0c0"/>
<rect x="526.3" y="610.5" width="3.8" height="445.5" fill="#999999"/>
<rect x="529.8" y="610.5" width="4.3" height="445.5" fill="#808080"/>
<rect x="533.8" y="610.5" width="13.0" height="445.5" fill="#808080"/>
<rect x="546.5" y="610.5" width="4.3" height="457.0" fill="#484848"/>
<rect x="550.5" y="610.5" width="2.6" height="445.5" fill="#d4d4d4"/>
<rect x="409.4" y="571.2" width="4.4" height="39.7" fill="#606060"/>
<rect x="413.5" y="571.2" width="6.8" height="39.7" fill="#c4c4c4"/>
<rect x="420.0" y="571.2" width="9.9" height="39.7" fill="#b0b0b0"/>
<rect x="429.6" y="571.2" width="7.7" height="39.7" fill="#383838"/>
<rect x="437.0" y="571.2" width="4.3" height="39.7" fill="#585858"/>
<rect x="441.0" y="571.2" width="8.3" height="39.7" fill="#2a2a2a"/>
<rect x="449.0" y="571.2" width="7.3" height="39.7" fill="#a6a6a6"/>
<rect x="456.0" y="571.2" width="6.3" height="39.7" fill="#b4b4b4"/>
<rect x="462.0" y="571.2" width="4.3" height="39.7" fill="#cccccc"/>
<rect x="466.0" y="571.2" width="3.3" height="39.7" fill="#a8a8a8"/>
<rect x="469.0" y="571.2" width="9.3" height="39.7" fill="#323232"/>
<rect x="478.0" y="571.2" width="3.3" height="39.7" fill="#585858"/>
<rect x="481.0" y="571.2" width="8.5" height="39.7" fill="#2a2a2a"/>
<rect x="489.2" y="571.2" width="8.1" height="39.7" fill="#b6b6b6"/>
<rect x="497.0" y="571.2" width="5.3" height="39.7" fill="#cccccc"/>
<rect x="502.0" y="571.2" width="3.3" height="39.7" fill="#b0b0b0"/>
<rect x="505.0" y="571.2" width="9.3" height="39.7" fill="#323232"/>
<rect x="514.0" y="571.2" width="5.3" height="39.7" fill="#666666"/>
<rect x="519.0" y="571.2" width="9.3" height="39.7" fill="#2a2a2a"/>
<rect x="528.0" y="571.2" width="6.3" height="39.7" fill="#b8b8b8"/>
<rect x="534.0" y="571.2" width="12.6" height="39.7" fill="#888888"/>
<rect x="546.3" y="571.2" width="3.5" height="39.7" fill="#505050"/>
<rect x="920.2" y="610.5" width="2.6" height="435.5" fill="#d0d0d0"/>
<rect x="922.5" y="610.5" width="3.1" height="435.5" fill="#acacac"/>
<rect x="925.3" y="610.5" width="1.5" height="435.5" fill="#9a9a9a"/>
<rect x="926.5" y="610.5" width="3.7" height="435.5" fill="#acacac"/>
<rect x="929.9" y="610.5" width="5.5" height="435.5" fill="#3a3a3a"/>
<rect x="935.1" y="610.5" width="4.9" height="435.5" fill="#c4c4c4"/>
<rect x="939.7" y="610.5" width="3.7" height="435.5" fill="#b0b0b0"/>
<rect x="943.1" y="610.5" width="6.7" height="435.5" fill="#cccccc"/>
<rect x="949.5" y="610.5" width="2.0" height="435.5" fill="#999999"/>
<rect x="951.2" y="610.5" width="6.0" height="435.5" fill="#2e2e2e"/>
<rect x="956.9" y="610.5" width="6.6" height="435.5" fill="#c0c0c0"/>
<rect x="963.2" y="610.5" width="6.1" height="435.5" fill="#3c3c3c"/>
<rect x="969.0" y="610.5" width="2.6" height="435.5" fill="#cccccc"/>
<rect x="971.3" y="610.5" width="4.9" height="435.5" fill="#e0e0e0"/>
<rect x="975.9" y="610.5" width="3.7" height="435.5" fill="#bbbbbb"/>
<rect x="979.3" y="610.5" width="6.1" height="435.5" fill="#d0d0d0"/>
<rect x="985.1" y="610.5" width="1.4" height="435.5" fill="#909090"/>
<rect x="986.2" y="610.5" width="6.1" height="435.5" fill="#333333"/>
<rect x="992.0" y="610.5" width="2.0" height="435.5" fill="#b8b8b8"/>
<rect x="993.7" y="610.5" width="2.6" height="435.5" fill="#cccccc"/>
<rect x="996.0" y="610.5" width="2.0" height="435.5" fill="#b8b8b8"/>
<rect x="997.7" y="610.5" width="4.9" height="435.5" fill="#4a4a4a"/>
<rect x="1002.3" y="610.5" width="2.6" height="435.5" fill="#999999"/>
<rect x="1004.6" y="610.5" width="2.6" height="435.5" fill="#aaaaaa"/>
<rect x="1006.9" y="610.5" width="3.7" height="435.5" fill="#999999"/>
<rect x="1010.3" y="610.5" width="7.2" height="435.5" fill="#e2e2e2"/>
<rect x="1017.2" y="610.5" width="4.9" height="435.5" fill="#c0c0c0"/>
<rect x="1021.8" y="610.5" width="5.5" height="435.5" fill="#dcdcdc"/>
<rect x="1027.0" y="610.5" width="1.4" height="435.5" fill="#909090"/>
<rect x="1028.1" y="610.5" width="7.2" height="435.5" fill="#262626"/>
<rect x="1035.0" y="610.5" width="6.1" height="435.5" fill="#cccccc"/>
<rect x="1040.8" y="610.5" width="5.4" height="435.5" fill="#404040"/>
<rect x="1045.9" y="610.5" width="7.2" height="435.5" fill="#eaeaea"/>
<rect x="1052.8" y="610.5" width="8.4" height="435.5" fill="#a8a8a8"/>
<rect x="1060.9" y="610.5" width="7.2" height="435.5" fill="#303030"/>
<rect x="925.5" y="571.2" width="6.1" height="39.7" fill="#242424"/>
<rect x="931.3" y="571.2" width="4.0" height="39.7" fill="#c8c8c8"/>
<rect x="935.0" y="571.2" width="4.3" height="39.7" fill="#e8e8e8"/>
<rect x="939.0" y="571.2" width="2.3" height="39.7" fill="#c8c8c8"/>
<rect x="941.0" y="571.2" width="4.8" height="39.7" fill="#999999"/>
<rect x="945.5" y="571.2" width="9.8" height="39.7" fill="#303030"/>
<rect x="955.0" y="571.2" width="3.3" height="39.7" fill="#484848"/>
<rect x="958.0" y="571.2" width="10.4" height="39.7" fill="#2c2c2c"/>
<rect x="968.1" y="571.2" width="3.2" height="39.7" fill="#bcbcbc"/>
<rect x="971.0" y="571.2" width="4.3" height="39.7" fill="#dddddd"/>
<rect x="975.0" y="571.2" width="11.5" height="39.7" fill="#b8b8b8"/>
<rect x="986.2" y="571.2" width="6.6" height="39.7" fill="#303030"/>
<rect x="992.5" y="571.2" width="5.8" height="39.7" fill="#626262"/>
<rect x="998.0" y="571.2" width="10.5" height="39.7" fill="#2c2c2c"/>
<rect x="1008.2" y="571.2" width="2.6" height="39.7" fill="#bbbbbb"/>
<rect x="1010.5" y="571.2" width="3.8" height="39.7" fill="#dddddd"/>
<rect x="1014.0" y="571.2" width="10.0" height="39.7" fill="#b6b6b6"/>
<rect x="1023.7" y="571.2" width="8.1" height="39.7" fill="#282828"/>
<rect x="1031.5" y="571.2" width="2.8" height="39.7" fill="#555555"/>
<rect x="1034.0" y="571.2" width="12.0" height="39.7" fill="#2a2a2a"/>
<rect x="1045.7" y="571.2" width="6.6" height="39.7" fill="#e6e6e6"/>
<rect x="1052.0" y="571.2" width="8.8" height="39.7" fill="#aaaaaa"/>
<rect x="1060.5" y="571.2" width="7.1" height="39.7" fill="#323232"/>
<rect x="410" y="1046.5" width="124" height="7.5" fill="#808080" opacity="0.85"/>
<rect x="923.5" y="1045.4" width="144" height="9.6" fill="#484848"/>
</g></g>
<g>
<rect x="396.6" y="544" width="12.2" height="527" fill="#fff"/>
<rect x="396.6" y="503" width="12.2" height="27.3" fill="#0a0a0a"/>
<rect x="396.6" y="544.3" width="12.2" height="36.0" fill="#0a0a0a"/>
<rect x="396.6" y="593.6" width="12.2" height="36.0" fill="#0a0a0a"/>
<rect x="396.6" y="642.9" width="12.2" height="36.0" fill="#0a0a0a"/>
<rect x="396.6" y="692.2" width="12.2" height="36.0" fill="#0a0a0a"/>
<rect x="396.6" y="741.5" width="12.2" height="36.0" fill="#0a0a0a"/>
<rect x="396.6" y="790.8" width="12.2" height="36.0" fill="#0a0a0a"/>
<rect x="396.6" y="840.1" width="12.2" height="36.0" fill="#0a0a0a"/>
<rect x="396.6" y="889.4" width="12.2" height="36.0" fill="#0a0a0a"/>
<rect x="396.6" y="938.7" width="12.2" height="36.0" fill="#0a0a0a"/>
<rect x="396.6" y="988.0" width="12.2" height="36.0" fill="#0a0a0a"/>
<rect x="396.6" y="1037.3" width="12.2" height="34.2" fill="#0a0a0a"/>
<rect x="533.7" y="544" width="12.8" height="527" fill="#fff"/>
<rect x="533.7" y="503" width="12.8" height="27.3" fill="#0a0a0a"/>
<rect x="533.7" y="544.3" width="12.8" height="36.0" fill="#0a0a0a"/>
<rect x="533.7" y="593.6" width="12.8" height="36.0" fill="#0a0a0a"/>
<rect x="533.7" y="642.9" width="12.8" height="36.0" fill="#0a0a0a"/>
<rect x="533.7" y="692.2" width="12.8" height="36.0" fill="#0a0a0a"/>
<rect x="533.7" y="741.5" width="12.8" height="36.0" fill="#0a0a0a"/>
<rect x="533.7" y="790.8" width="12.8" height="36.0" fill="#0a0a0a"/>
<rect x="533.7" y="840.1" width="12.8" height="36.0" fill="#0a0a0a"/>
<rect x="533.7" y="889.4" width="12.8" height="36.0" fill="#0a0a0a"/>
<rect x="533.7" y="938.7" width="12.8" height="36.0" fill="#0a0a0a"/>
<rect x="533.7" y="988.0" width="12.8" height="36.0" fill="#0a0a0a"/>
<rect x="533.7" y="1037.3" width="12.8" height="34.2" fill="#0a0a0a"/>
<path d="M408,998 L440,980.5 L440,992.3 L503.5,992.3 L503.5,980.5 L536,998 L503.5,1016 L503.5,1003.8 L440,1003.8 L440,1016 Z" fill="#000"/>
<rect x="138" y="100" width="248" height="46" fill="#fff" opacity="0.82"/>
<text transform="translate(139.5,143.7) scale(0.952,1)" text-anchor="start" font-size="63.5" fill="#000" font-weight="bold" >INP−INM</text>
<text transform="translate(151.5,661.8) scale(0.94,1)" text-anchor="start" font-size="63.5" fill="#000" font-weight="bold" >OUT</text>
<text x="306.5" y="485" font-size="62" fill="#000" font-weight="bold">−4m<tspan font-weight="normal" stroke="#000" stroke-width="1.6">V</tspan></text>
<text x="502" y="485" font-size="62" fill="#000" font-weight="bold">4m<tspan font-weight="normal" stroke="#000" stroke-width="1.6">V</tspan></text>
<rect x="24.2" y="21" width="4.6" height="1146" fill="#000"/>
<rect x="24.2" y="21" width="1342.8" height="3.8" fill="#000"/>
<rect x="1363" y="21" width="4" height="1146" fill="#000"/>
<rect x="24.2" y="1162" width="1342.8" height="5" fill="#000"/>
<text transform="translate(646.8,1259.3) scale(0.92,1)" font-family="'Liberation Serif', serif" font-size="84.2" fill="#000">(</text>
<text transform="translate(725.2,1259.3) scale(0.92,1)" font-family="'Liberation Serif', serif" font-size="84.2" fill="#000">)</text>
<text x="673.7" y="1259.7" font-family="'Liberation Serif', serif" font-size="90" font-weight="bold" fill="#000">b</text>
</g>
</svg>
</body></html>
